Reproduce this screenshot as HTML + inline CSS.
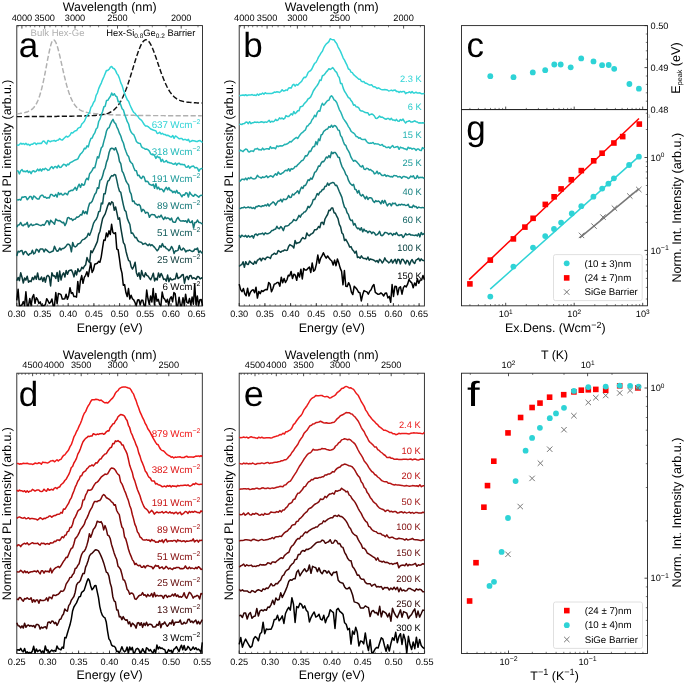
<!DOCTYPE html><html><head><meta charset="utf-8"><style>html,body{margin:0;padding:0;background:#fff;}svg{display:block;will-change:transform;text-rendering:geometricPrecision;}</style></head><body><svg width="685" height="684" viewBox="0 0 685 684" font-family='"Liberation Sans", sans-serif'>
<rect width="685" height="684" fill="#fff"/>
<rect x="16.8" y="25.6" width="185.7" height="280.4" fill="none" stroke="#222" stroke-width="0.9"/>
<line x1="16.8" y1="306" x2="16.8" y2="303" stroke="#222" stroke-width="0.8"/>
<text x="16.8" y="317" font-size="9.2" text-anchor="middle" fill="#000">0.30</text>
<line x1="42.5" y1="306" x2="42.5" y2="303" stroke="#222" stroke-width="0.8"/>
<text x="42.5" y="317" font-size="9.2" text-anchor="middle" fill="#000">0.35</text>
<line x1="68.2" y1="306" x2="68.2" y2="303" stroke="#222" stroke-width="0.8"/>
<text x="68.2" y="317" font-size="9.2" text-anchor="middle" fill="#000">0.40</text>
<line x1="93.9" y1="306" x2="93.9" y2="303" stroke="#222" stroke-width="0.8"/>
<text x="93.9" y="317" font-size="9.2" text-anchor="middle" fill="#000">0.45</text>
<line x1="119.6" y1="306" x2="119.6" y2="303" stroke="#222" stroke-width="0.8"/>
<text x="119.6" y="317" font-size="9.2" text-anchor="middle" fill="#000">0.50</text>
<line x1="145.3" y1="306" x2="145.3" y2="303" stroke="#222" stroke-width="0.8"/>
<text x="145.3" y="317" font-size="9.2" text-anchor="middle" fill="#000">0.55</text>
<line x1="171" y1="306" x2="171" y2="303" stroke="#222" stroke-width="0.8"/>
<text x="171" y="317" font-size="9.2" text-anchor="middle" fill="#000">0.60</text>
<line x1="196.7" y1="306" x2="196.7" y2="303" stroke="#222" stroke-width="0.8"/>
<text x="196.7" y="317" font-size="9.2" text-anchor="middle" fill="#000">0.65</text>
<line x1="21.9" y1="306" x2="21.9" y2="304.3" stroke="#222" stroke-width="0.6"/>
<line x1="27.1" y1="306" x2="27.1" y2="304.3" stroke="#222" stroke-width="0.6"/>
<line x1="32.2" y1="306" x2="32.2" y2="304.3" stroke="#222" stroke-width="0.6"/>
<line x1="37.4" y1="306" x2="37.4" y2="304.3" stroke="#222" stroke-width="0.6"/>
<line x1="42.5" y1="306" x2="42.5" y2="304.3" stroke="#222" stroke-width="0.6"/>
<line x1="47.6" y1="306" x2="47.6" y2="304.3" stroke="#222" stroke-width="0.6"/>
<line x1="52.8" y1="306" x2="52.8" y2="304.3" stroke="#222" stroke-width="0.6"/>
<line x1="57.9" y1="306" x2="57.9" y2="304.3" stroke="#222" stroke-width="0.6"/>
<line x1="63.1" y1="306" x2="63.1" y2="304.3" stroke="#222" stroke-width="0.6"/>
<line x1="68.2" y1="306" x2="68.2" y2="304.3" stroke="#222" stroke-width="0.6"/>
<line x1="73.3" y1="306" x2="73.3" y2="304.3" stroke="#222" stroke-width="0.6"/>
<line x1="78.5" y1="306" x2="78.5" y2="304.3" stroke="#222" stroke-width="0.6"/>
<line x1="83.6" y1="306" x2="83.6" y2="304.3" stroke="#222" stroke-width="0.6"/>
<line x1="88.8" y1="306" x2="88.8" y2="304.3" stroke="#222" stroke-width="0.6"/>
<line x1="93.9" y1="306" x2="93.9" y2="304.3" stroke="#222" stroke-width="0.6"/>
<line x1="99" y1="306" x2="99" y2="304.3" stroke="#222" stroke-width="0.6"/>
<line x1="104.2" y1="306" x2="104.2" y2="304.3" stroke="#222" stroke-width="0.6"/>
<line x1="109.3" y1="306" x2="109.3" y2="304.3" stroke="#222" stroke-width="0.6"/>
<line x1="114.5" y1="306" x2="114.5" y2="304.3" stroke="#222" stroke-width="0.6"/>
<line x1="119.6" y1="306" x2="119.6" y2="304.3" stroke="#222" stroke-width="0.6"/>
<line x1="124.7" y1="306" x2="124.7" y2="304.3" stroke="#222" stroke-width="0.6"/>
<line x1="129.9" y1="306" x2="129.9" y2="304.3" stroke="#222" stroke-width="0.6"/>
<line x1="135" y1="306" x2="135" y2="304.3" stroke="#222" stroke-width="0.6"/>
<line x1="140.2" y1="306" x2="140.2" y2="304.3" stroke="#222" stroke-width="0.6"/>
<line x1="145.3" y1="306" x2="145.3" y2="304.3" stroke="#222" stroke-width="0.6"/>
<line x1="150.4" y1="306" x2="150.4" y2="304.3" stroke="#222" stroke-width="0.6"/>
<line x1="155.6" y1="306" x2="155.6" y2="304.3" stroke="#222" stroke-width="0.6"/>
<line x1="160.7" y1="306" x2="160.7" y2="304.3" stroke="#222" stroke-width="0.6"/>
<line x1="165.9" y1="306" x2="165.9" y2="304.3" stroke="#222" stroke-width="0.6"/>
<line x1="171" y1="306" x2="171" y2="304.3" stroke="#222" stroke-width="0.6"/>
<line x1="176.1" y1="306" x2="176.1" y2="304.3" stroke="#222" stroke-width="0.6"/>
<line x1="181.3" y1="306" x2="181.3" y2="304.3" stroke="#222" stroke-width="0.6"/>
<line x1="186.4" y1="306" x2="186.4" y2="304.3" stroke="#222" stroke-width="0.6"/>
<line x1="191.6" y1="306" x2="191.6" y2="304.3" stroke="#222" stroke-width="0.6"/>
<line x1="196.7" y1="306" x2="196.7" y2="304.3" stroke="#222" stroke-width="0.6"/>
<line x1="201.8" y1="306" x2="201.8" y2="304.3" stroke="#222" stroke-width="0.6"/>
<line x1="21.9" y1="25.6" x2="21.9" y2="28.6" stroke="#222" stroke-width="0.8"/>
<text x="21.9" y="20.6" font-size="9.2" text-anchor="middle" fill="#000">4000</text>
<line x1="44.7" y1="25.6" x2="44.7" y2="28.6" stroke="#222" stroke-width="0.8"/>
<text x="44.7" y="20.6" font-size="9.2" text-anchor="middle" fill="#000">3500</text>
<line x1="75" y1="25.6" x2="75" y2="28.6" stroke="#222" stroke-width="0.8"/>
<text x="75" y="20.6" font-size="9.2" text-anchor="middle" fill="#000">3000</text>
<line x1="117.5" y1="25.6" x2="117.5" y2="28.6" stroke="#222" stroke-width="0.8"/>
<text x="117.5" y="20.6" font-size="9.2" text-anchor="middle" fill="#000">2500</text>
<line x1="181.2" y1="25.6" x2="181.2" y2="28.6" stroke="#222" stroke-width="0.8"/>
<text x="181.2" y="20.6" font-size="9.2" text-anchor="middle" fill="#000">2000</text>
<line x1="198" y1="25.6" x2="198" y2="27.3" stroke="#222" stroke-width="0.6"/>
<line x1="166.1" y1="25.6" x2="166.1" y2="27.3" stroke="#222" stroke-width="0.6"/>
<line x1="152.3" y1="25.6" x2="152.3" y2="27.3" stroke="#222" stroke-width="0.6"/>
<line x1="139.7" y1="25.6" x2="139.7" y2="27.3" stroke="#222" stroke-width="0.6"/>
<line x1="128.1" y1="25.6" x2="128.1" y2="27.3" stroke="#222" stroke-width="0.6"/>
<line x1="107.7" y1="25.6" x2="107.7" y2="27.3" stroke="#222" stroke-width="0.6"/>
<line x1="98.6" y1="25.6" x2="98.6" y2="27.3" stroke="#222" stroke-width="0.6"/>
<line x1="90.2" y1="25.6" x2="90.2" y2="27.3" stroke="#222" stroke-width="0.6"/>
<line x1="82.4" y1="25.6" x2="82.4" y2="27.3" stroke="#222" stroke-width="0.6"/>
<line x1="68.2" y1="25.6" x2="68.2" y2="27.3" stroke="#222" stroke-width="0.6"/>
<line x1="61.7" y1="25.6" x2="61.7" y2="27.3" stroke="#222" stroke-width="0.6"/>
<line x1="55.7" y1="25.6" x2="55.7" y2="27.3" stroke="#222" stroke-width="0.6"/>
<line x1="50" y1="25.6" x2="50" y2="27.3" stroke="#222" stroke-width="0.6"/>
<line x1="39.6" y1="25.6" x2="39.6" y2="27.3" stroke="#222" stroke-width="0.6"/>
<line x1="34.8" y1="25.6" x2="34.8" y2="27.3" stroke="#222" stroke-width="0.6"/>
<line x1="30.3" y1="25.6" x2="30.3" y2="27.3" stroke="#222" stroke-width="0.6"/>
<line x1="26" y1="25.6" x2="26" y2="27.3" stroke="#222" stroke-width="0.6"/>
<line x1="18" y1="25.6" x2="18" y2="27.3" stroke="#222" stroke-width="0.6"/>
<text x="109.7" y="10.9" font-size="12.4" text-anchor="middle" fill="#000">Wavelength (nm)</text>
<text x="109.7" y="331.6" font-size="12.4" text-anchor="middle" fill="#000">Energy (eV)</text>
<text x="10.6" y="166.1" font-size="12.4" text-anchor="middle" fill="#000" transform="rotate(-90 10.6 166.1)">Normalized PL intensity (arb.u.)</text>
<path d="M16.8 113.9 L17.8 113.7 L18.8 113.6 L19.8 113.5 L20.8 113.3 L21.8 113.2 L22.8 113 L23.8 112.8 L24.8 112.6 L25.8 112.3 L26.8 112 L27.8 111.7 L28.8 111.2 L29.8 110.8 L30.8 110.2 L31.8 109.4 L32.8 108.6 L33.8 107.5 L34.8 106.3 L35.8 104.7 L36.8 102.9 L37.8 100.8 L38.8 98.2 L39.8 95.3 L40.8 91.9 L41.8 88.2 L42.8 84 L43.8 79.4 L44.8 74.5 L45.8 69.3 L46.8 64 L47.8 58.7 L48.8 53.7 L49.8 49 L50.8 45.1 L51.8 42.1 L52.8 40.3 L53.8 39.9 L54.8 40.6 L55.8 42.3 L56.8 44.8 L57.8 48 L58.8 51.8 L59.8 55.9 L60.8 60.3 L61.8 64.8 L62.8 69.3 L63.8 73.7 L64.8 77.9 L65.8 81.9 L66.8 85.7 L67.8 89.1 L68.8 92.3 L69.8 95.1 L70.8 97.6 L71.8 99.9 L72.8 101.8 L73.8 103.6 L74.8 105 L75.8 106.3 L76.8 107.4 L77.8 108.3 L78.8 109.1 L79.8 109.8 L80.8 110.3 L81.8 110.8 L82.8 111.2 L83.8 111.6 L84.8 111.9 L85.8 112.2 L86.8 112.4 L87.8 112.6 L88.8 112.8 L89.8 113 L90.8 113.1 L91.8 113.3 L92.8 113.4 L93.8 113.5 L94.8 113.6 L95.8 113.7 L96.8 113.8 L97.8 113.9 L98.8 114 L99.8 114.1 L100.8 114.2 L101.8 114.2 L102.8 114.3 L103.8 114.4 L104.8 114.4 L105.8 114.5 L106.8 114.5 L107.8 114.6 L108.8 114.6 L109.8 114.7 L110.8 114.7 L111.8 114.8 L112.8 114.8 L113.8 114.9 L114.8 114.9 L115.8 114.9 L116.8 115 L117.8 115 L118.8 115 L119.8 115 L120.8 115.1 L121.8 115.1 L122.8 115.1 L123.8 115.1 L124.8 115.2 L125.8 115.2 L126.8 115.2 L127.8 115.2 L128.8 115.3 L129.8 115.3 L130.8 115.3 L131.8 115.3 L132.8 115.3 L133.8 115.3 L134.8 115.4 L135.8 115.4 L136.8 115.4 L137.8 115.4 L138.8 115.4 L139.8 115.4 L140.8 115.4 L141.8 115.5 L142.8 115.5 L143.8 115.5 L144.8 115.5 L145.8 115.5 L146.8 115.5 L147.8 115.5 L148.8 115.5 L149.8 115.5 L150.8 115.6 L151.8 115.6 L152.8 115.6 L153.8 115.6 L154.8 115.6 L155.8 115.6 L156.8 115.6 L157.8 115.6 L158.8 115.6 L159.8 115.6 L160.8 115.6 L161.8 115.6 L162.8 115.6 L163.8 115.6 L164.8 115.7 L165.8 115.7 L166.8 115.7 L167.8 115.7 L168.8 115.7 L169.8 115.7 L170.8 115.7 L171.8 115.7 L172.8 115.7 L173.8 115.7 L174.8 115.7 L175.8 115.7 L176.8 115.7 L177.8 115.7 L178.8 115.7 L179.8 115.7 L180.8 115.7 L181.8 115.7 L182.8 115.7 L183.8 115.7 L184.8 115.8 L185.8 115.8 L186.8 115.8 L187.8 115.8 L188.8 115.8 L189.8 115.8 L190.8 115.8 L191.8 115.8 L192.8 115.8 L193.8 115.8 L194.8 115.8 L195.8 115.8 L196.8 115.8 L197.8 115.8 L198.8 115.8 L199.8 115.8 L200.8 115.8 L201.8 115.8" fill="none" stroke="#b0b0b0" stroke-width="1.45" stroke-linejoin="round" stroke-dasharray="5.2 2.3"/>
<path d="M16.8 116.6 L17.8 116.6 L18.8 116.6 L19.8 116.6 L20.8 116.6 L21.8 116.6 L22.8 116.6 L23.8 116.6 L24.8 116.6 L25.8 116.6 L26.8 116.5 L27.8 116.5 L28.8 116.5 L29.8 116.5 L30.8 116.5 L31.8 116.5 L32.8 116.5 L33.8 116.5 L34.8 116.5 L35.8 116.5 L36.8 116.5 L37.8 116.5 L38.8 116.5 L39.8 116.5 L40.8 116.5 L41.8 116.5 L42.8 116.5 L43.8 116.5 L44.8 116.5 L45.8 116.4 L46.8 116.4 L47.8 116.4 L48.8 116.4 L49.8 116.4 L50.8 116.4 L51.8 116.4 L52.8 116.4 L53.8 116.4 L54.8 116.4 L55.8 116.4 L56.8 116.4 L57.8 116.3 L58.8 116.3 L59.8 116.3 L60.8 116.3 L61.8 116.3 L62.8 116.3 L63.8 116.3 L64.8 116.3 L65.8 116.2 L66.8 116.2 L67.8 116.2 L68.8 116.2 L69.8 116.2 L70.8 116.2 L71.8 116.2 L72.8 116.1 L73.8 116.1 L74.8 116.1 L75.8 116.1 L76.8 116.1 L77.8 116 L78.8 116 L79.8 116 L80.8 116 L81.8 116 L82.8 115.9 L83.8 115.9 L84.8 115.9 L85.8 115.8 L86.8 115.8 L87.8 115.8 L88.8 115.7 L89.8 115.7 L90.8 115.7 L91.8 115.6 L92.8 115.6 L93.8 115.5 L94.8 115.4 L95.8 115.4 L96.8 115.3 L97.8 115.2 L98.8 115.1 L99.8 115 L100.8 114.9 L101.8 114.8 L102.8 114.6 L103.8 114.4 L104.8 114.2 L105.8 114 L106.8 113.7 L107.8 113.4 L108.8 113 L109.8 112.5 L110.8 112 L111.8 111.4 L112.8 110.8 L113.8 110 L114.8 109.1 L115.8 108.1 L116.8 107 L117.8 105.8 L118.8 104.4 L119.8 102.8 L120.8 101.1 L121.8 99.2 L122.8 97.2 L123.8 95 L124.8 92.6 L125.8 90.1 L126.8 87.4 L127.8 84.5 L128.8 81.6 L129.8 78.5 L130.8 75.3 L131.8 72 L132.8 68.7 L133.8 65.4 L134.8 62.2 L135.8 59 L136.8 55.9 L137.8 52.9 L138.8 50.2 L139.8 47.7 L140.8 45.4 L141.8 43.5 L142.8 42 L143.8 40.8 L144.8 40.1 L145.8 39.8 L146.8 39.9 L147.8 40.5 L148.8 41.5 L149.8 42.9 L150.8 44.6 L151.8 46.7 L152.8 49 L153.8 51.6 L154.8 54.3 L155.8 57.1 L156.8 60 L157.8 63 L158.8 65.9 L159.8 68.8 L160.8 71.7 L161.8 74.5 L162.8 77.1 L163.8 79.6 L164.8 82 L165.8 84.2 L166.8 86.3 L167.8 88.2 L168.8 90 L169.8 91.6 L170.8 93 L171.8 94.3 L172.8 95.4 L173.8 96.5 L174.8 97.4 L175.8 98.1 L176.8 98.8 L177.8 99.4 L178.8 99.9 L179.8 100.4 L180.8 100.7 L181.8 101.1 L182.8 101.3 L183.8 101.6 L184.8 101.8 L185.8 102 L186.8 102.1 L187.8 102.2 L188.8 102.3 L189.8 102.4 L190.8 102.5 L191.8 102.6 L192.8 102.7 L193.8 102.7 L194.8 102.8 L195.8 102.8 L196.8 102.9 L197.8 102.9 L198.8 102.9 L199.8 103 L200.8 103 L201.8 103" fill="none" stroke="#111" stroke-width="1.45" stroke-linejoin="round" stroke-dasharray="5.2 2.3"/>
<path d="M16.8 145.1 L18.1 145.2 L19.4 144.6 L20.7 143.2 L22 144.2 L23.3 143.5 L24.6 144.5 L25.9 143.2 L27.2 144.7 L28.5 144.3 L29.8 145.5 L31.1 144.2 L32.4 144.3 L33.7 143.3 L35 142.9 L36.3 144.5 L37.6 143.3 L38.9 143.5 L40.2 143.2 L41.5 143.4 L42.8 141.3 L44.1 141.1 L45.4 142.7 L46.7 143.9 L48 140.4 L49.3 141.2 L50.6 141.7 L51.9 140.9 L53.2 140.8 L54.5 140.5 L55.8 141.3 L57.1 140.2 L58.4 140 L59.7 138.6 L61 139.7 L62.3 140.1 L63.6 138.8 L64.9 137.5 L66.2 136.2 L67.5 137 L68.8 136.3 L70.1 135 L71.4 132.6 L72.7 133 L74 131.7 L75.3 130.8 L76.6 130.6 L77.9 128.3 L79.2 127.6 L80.5 127.3 L81.8 124 L83.1 122.7 L84.4 121.3 L85.7 118.3 L87 115.3 L88.3 114.3 L89.6 112.2 L90.9 107.4 L92.2 105.7 L93.5 102.5 L94.8 100.8 L96.1 95.3 L97.4 93 L98.7 88.6 L100 85.6 L101.3 83.1 L102.6 79.6 L103.9 76.7 L105.2 73.5 L106.5 70.4 L107.8 70.4 L109.1 69.3 L110.4 67.2 L111.7 66.5 L113 68.2 L114.3 68.8 L115.6 70.6 L116.9 73.6 L118.2 75.2 L119.5 78.6 L120.8 82.9 L122.1 85.5 L123.4 89.9 L124.7 93.4 L126 96.9 L127.3 99.9 L128.6 101.2 L129.9 104.8 L131.2 107.7 L132.5 110.4 L133.8 112.5 L135.1 113.4 L136.4 115.3 L137.7 116.2 L139 118.2 L140.3 119.4 L141.6 120.3 L142.9 122.3 L144.2 124.5 L145.5 126 L146.8 126 L148.1 126.6 L149.4 127.8 L150.7 129 L152 129.5 L153.3 130.1 L154.6 130.4 L155.9 130.9 L157.2 133.5 L158.5 133.1 L159.8 132.2 L161.1 134 L162.4 133.3 L163.7 134.5 L165 134.4 L166.3 135.4 L167.6 135.2 L168.9 135.8 L170.2 136.7 L171.5 137.1 L172.8 135.6 L174.1 138.3 L175.4 136 L176.7 136.7 L178 137.8 L179.3 138.8 L180.6 138.6 L181.9 138.5 L183.2 139.9 L184.5 139.4 L185.8 139.6 L187.1 140.4 L188.4 139.4 L189.7 141.9 L191 141.3 L192.3 140.5 L193.6 140.7 L194.9 141 L196.2 141.6 L197.5 141.5 L198.8 140.7 L200.1 140.6 L202.5 142.5" fill="none" stroke="#30d4d6" stroke-width="1.5" stroke-linejoin="round"/>
<path d="M16.8 170.8 L18.1 171.1 L19.4 173.9 L20.7 170.7 L22 169.6 L23.3 171.5 L24.6 171.2 L25.9 171.8 L27.2 170.5 L28.5 172.5 L29.8 171.4 L31.1 173.6 L32.4 171.2 L33.7 170.7 L35 171.9 L36.3 171.2 L37.6 169.1 L38.9 170.8 L40.2 169 L41.5 171 L42.8 168.8 L44.1 169.7 L45.4 168.2 L46.7 169.3 L48 170.4 L49.3 169.9 L50.6 167.6 L51.9 166.6 L53.2 168.7 L54.5 166.8 L55.8 166.5 L57.1 167.9 L58.4 165.3 L59.7 167.4 L61 167.3 L62.3 165.7 L63.6 164.2 L64.9 164.6 L66.2 166.1 L67.5 164.1 L68.8 164.7 L70.1 162.7 L71.4 162.1 L72.7 161.5 L74 160.6 L75.3 159.9 L76.6 159.6 L77.9 158.9 L79.2 156.2 L80.5 154 L81.8 152.9 L83.1 151.1 L84.4 148.2 L85.7 148.8 L87 145.9 L88.3 146.9 L89.6 141.9 L90.9 138.5 L92.2 138 L93.5 134.8 L94.8 132.9 L96.1 129 L97.4 127.8 L98.7 121.5 L100 119.2 L101.3 115 L102.6 111.5 L103.9 106.8 L105.2 106.2 L106.5 100.6 L107.8 100.3 L109.1 98.2 L110.4 96.4 L111.7 93 L113 95.3 L114.3 93.7 L115.6 96 L116.9 96.7 L118.2 101.7 L119.5 101.4 L120.8 104.9 L122.1 108.7 L123.4 110 L124.7 114.5 L126 118 L127.3 121.7 L128.6 124 L129.9 129.4 L131.2 132.2 L132.5 133.9 L133.8 134.7 L135.1 137.7 L136.4 141.4 L137.7 142.8 L139 143.3 L140.3 143.5 L141.6 146.9 L142.9 147.9 L144.2 148.4 L145.5 149.3 L146.8 149 L148.1 149.9 L149.4 151.1 L150.7 153.9 L152 154.7 L153.3 154.4 L154.6 155.7 L155.9 158.4 L157.2 156 L158.5 157.5 L159.8 157.2 L161.1 161.5 L162.4 159.3 L163.7 161.9 L165 161.7 L166.3 160.5 L167.6 162.4 L168.9 162.3 L170.2 163.1 L171.5 163.1 L172.8 164 L174.1 164.3 L175.4 163 L176.7 165.1 L178 163.6 L179.3 163.3 L180.6 164.6 L181.9 164.3 L183.2 164.8 L184.5 164.6 L185.8 167 L187.1 167.3 L188.4 165.8 L189.7 168.2 L191 166.8 L192.3 166.2 L193.6 166.1 L194.9 167.9 L196.2 167.5 L197.5 168.1 L198.8 171.3 L200.1 169.1 L202.5 168.2" fill="none" stroke="#22baba" stroke-width="1.5" stroke-linejoin="round"/>
<path d="M16.8 199.6 L18.1 200 L19.4 199.4 L20.7 200.2 L22 197.1 L23.3 197.2 L24.6 196.7 L25.9 196.7 L27.2 199.7 L28.5 198.4 L29.8 196.5 L31.1 196.5 L32.4 199.4 L33.7 196 L35 196.8 L36.3 198.1 L37.6 199.1 L38.9 199.1 L40.2 196.4 L41.5 195.2 L42.8 195.3 L44.1 197.4 L45.4 197 L46.7 198.3 L48 197.6 L49.3 197.9 L50.6 194.6 L51.9 194.4 L53.2 195.8 L54.5 196.2 L55.8 194.3 L57.1 197.1 L58.4 192.6 L59.7 194.6 L61 193.2 L62.3 194.9 L63.6 194.7 L64.9 193.2 L66.2 193.8 L67.5 194.8 L68.8 191.5 L70.1 191 L71.4 190.2 L72.7 190.6 L74 189.1 L75.3 187.3 L76.6 190.2 L77.9 186.7 L79.2 184.2 L80.5 187.4 L81.8 183.8 L83.1 185.2 L84.4 184.7 L85.7 180.1 L87 178.2 L88.3 179.8 L89.6 173.7 L90.9 172.2 L92.2 170.4 L93.5 167.7 L94.8 167.8 L96.1 162.6 L97.4 156.8 L98.7 157.9 L100 152.9 L101.3 147.8 L102.6 146.5 L103.9 141.1 L105.2 136.8 L106.5 131 L107.8 128.4 L109.1 127.7 L110.4 124.1 L111.7 121.4 L113 119.3 L114.3 122.5 L115.6 123.6 L116.9 127.1 L118.2 129.7 L119.5 133.4 L120.8 136 L122.1 140.4 L123.4 143 L124.7 148 L126 151.6 L127.3 154.9 L128.6 156.4 L129.9 161 L131.2 162.8 L132.5 163.9 L133.8 167.7 L135.1 170.6 L136.4 170.8 L137.7 175.5 L139 175.2 L140.3 177.7 L141.6 178.5 L142.9 176.2 L144.2 177.1 L145.5 181.5 L146.8 181.2 L148.1 181.9 L149.4 184.3 L150.7 184.8 L152 185.4 L153.3 184.3 L154.6 188.3 L155.9 183.7 L157.2 188.9 L158.5 187.2 L159.8 189.6 L161.1 188.9 L162.4 189.7 L163.7 191.8 L165 189.1 L166.3 187.3 L167.6 189.8 L168.9 187.6 L170.2 190.4 L171.5 190.5 L172.8 192.6 L174.1 191.3 L175.4 192.9 L176.7 190.4 L178 193.3 L179.3 192.8 L180.6 194.7 L181.9 196.8 L183.2 194.7 L184.5 195.2 L185.8 192.8 L187.1 193.3 L188.4 197 L189.7 192.1 L191 194.3 L192.3 195.5 L193.6 196.3 L194.9 194.3 L196.2 195.2 L197.5 196.1 L198.8 197.3 L200.1 195.6 L202.5 195.3" fill="none" stroke="#1a9898" stroke-width="1.5" stroke-linejoin="round"/>
<path d="M16.8 227.1 L18.1 225 L19.4 224.7 L20.7 222.5 L22 225.2 L23.3 225.7 L24.6 224.3 L25.9 224.4 L27.2 222.3 L28.5 227.1 L29.8 225.3 L31.1 224 L32.4 225.6 L33.7 225 L35 224.6 L36.3 224 L37.6 224.3 L38.9 224.9 L40.2 225.4 L41.5 225.4 L42.8 224.5 L44.1 225.3 L45.4 223.3 L46.7 220.8 L48 220.9 L49.3 224.7 L50.6 220.3 L51.9 221.6 L53.2 222.8 L54.5 224.2 L55.8 218.9 L57.1 220.3 L58.4 220.7 L59.7 220.6 L61 221.6 L62.3 222.7 L63.6 222.2 L64.9 225.6 L66.2 223.2 L67.5 218 L68.8 217.4 L70.1 219.1 L71.4 218.6 L72.7 220.5 L74 219.3 L75.3 219.1 L76.6 217.1 L77.9 217.2 L79.2 216.4 L80.5 214.6 L81.8 215 L83.1 210.7 L84.4 213.5 L85.7 211.6 L87 214 L88.3 207.5 L89.6 203.2 L90.9 202.7 L92.2 201.2 L93.5 197.8 L94.8 194.2 L96.1 192.7 L97.4 187.7 L98.7 188.4 L100 180.1 L101.3 179.6 L102.6 176.1 L103.9 170.8 L105.2 168 L106.5 162.1 L107.8 158.9 L109.1 152.5 L110.4 149 L111.7 148.2 L113 148.4 L114.3 150 L115.6 147.7 L116.9 151.3 L118.2 154.7 L119.5 161.5 L120.8 163.7 L122.1 171.2 L123.4 173.2 L124.7 176.9 L126 181 L127.3 183.1 L128.6 185 L129.9 191.6 L131.2 194.1 L132.5 201.4 L133.8 200.9 L135.1 203.6 L136.4 204.1 L137.7 205.2 L139 204.4 L140.3 206 L141.6 211.6 L142.9 209.4 L144.2 210.3 L145.5 213.2 L146.8 212.3 L148.1 212.9 L149.4 217.3 L150.7 215.1 L152 214.4 L153.3 214.8 L154.6 214.8 L155.9 217 L157.2 217.7 L158.5 216.2 L159.8 217.1 L161.1 215.1 L162.4 217.6 L163.7 219.5 L165 217 L166.3 218.7 L167.6 217.9 L168.9 218.5 L170.2 220 L171.5 218.1 L172.8 221.8 L174.1 222.2 L175.4 222.2 L176.7 218.9 L178 217.4 L179.3 219.7 L180.6 221 L181.9 220.9 L183.2 220.8 L184.5 221.2 L185.8 220.7 L187.1 222.5 L188.4 219.1 L189.7 222.2 L191 222.5 L192.3 220.8 L193.6 228 L194.9 222.4 L196.2 222.4 L197.5 220 L198.8 222.5 L200.1 222.5 L202.5 224.2" fill="none" stroke="#147878" stroke-width="1.5" stroke-linejoin="round"/>
<path d="M16.8 256 L18.1 251.2 L19.4 251.9 L20.7 250.7 L22 250.5 L23.3 254.6 L24.6 252 L25.9 251.5 L27.2 253.8 L28.5 255.3 L29.8 253.7 L31.1 253.5 L32.4 250.2 L33.7 253.9 L35 253 L36.3 249.3 L37.6 249.9 L38.9 252.2 L40.2 249 L41.5 249 L42.8 249 L44.1 251.9 L45.4 249.1 L46.7 250.1 L48 251.4 L49.3 252.5 L50.6 252.2 L51.9 251.5 L53.2 251 L54.5 246.2 L55.8 249.4 L57.1 251.3 L58.4 250.7 L59.7 248 L61 250 L62.3 248.4 L63.6 248.5 L64.9 247.4 L66.2 245.9 L67.5 244.2 L68.8 244.3 L70.1 245.8 L71.4 251.8 L72.7 242.4 L74 246.3 L75.3 246.9 L76.6 246 L77.9 244 L79.2 243.5 L80.5 242.9 L81.8 240.5 L83.1 239.5 L84.4 239.1 L85.7 237.9 L87 236.8 L88.3 233.3 L89.6 235.3 L90.9 232 L92.2 228 L93.5 223.4 L94.8 221 L96.1 219.6 L97.4 216.7 L98.7 211.8 L100 211.3 L101.3 203.1 L102.6 203.9 L103.9 193.7 L105.2 193.8 L106.5 186.2 L107.8 181.1 L109.1 180.3 L110.4 177.4 L111.7 175.6 L113 176 L114.3 174.5 L115.6 174.9 L116.9 180.6 L118.2 186.9 L119.5 191.3 L120.8 192.4 L122.1 199 L123.4 205.1 L124.7 210.3 L126 211.6 L127.3 218.4 L128.6 221.6 L129.9 224.5 L131.2 233.2 L132.5 232.9 L133.8 235.1 L135.1 237.7 L136.4 237.5 L137.7 240.4 L139 241.6 L140.3 242.1 L141.6 242.4 L142.9 244.4 L144.2 243.7 L145.5 243.3 L146.8 244.7 L148.1 245.6 L149.4 244 L150.7 245.7 L152 244.7 L153.3 246.1 L154.6 247.4 L155.9 249.1 L157.2 250.8 L158.5 249.2 L159.8 245.8 L161.1 247.1 L162.4 243.6 L163.7 246.8 L165 246.5 L166.3 248.6 L167.6 249.1 L168.9 250.7 L170.2 249.4 L171.5 246.5 L172.8 248.6 L174.1 253.5 L175.4 250.7 L176.7 250.9 L178 250.4 L179.3 245.5 L180.6 249.6 L181.9 250 L183.2 248.1 L184.5 249.3 L185.8 251.9 L187.1 250.5 L188.4 250.7 L189.7 250 L191 250.9 L192.3 251.5 L193.6 251 L194.9 249 L196.2 249.4 L197.5 248 L198.8 252.8 L200.1 250.9 L202.5 253.4" fill="none" stroke="#0e5858" stroke-width="1.5" stroke-linejoin="round"/>
<path d="M16.8 280.8 L18.1 277.4 L19.4 280.6 L20.7 272.8 L22 277.2 L23.3 283 L24.6 278 L25.9 280.1 L27.2 276.2 L28.5 282.2 L29.8 280.9 L31.1 281.6 L32.4 277.5 L33.7 279.6 L35 276 L36.3 279.3 L37.6 272.9 L38.9 279.4 L40.2 279.6 L41.5 277 L42.8 281.4 L44.1 277.4 L45.4 282.2 L46.7 276.3 L48 275.4 L49.3 276.9 L50.6 285.9 L51.9 272.8 L53.2 275.9 L54.5 275.8 L55.8 278.5 L57.1 272.4 L58.4 281.3 L59.7 271.1 L61 280 L62.3 274.9 L63.6 272.8 L64.9 277 L66.2 270.4 L67.5 274.3 L68.8 270.7 L70.1 270.3 L71.4 269.9 L72.7 272.6 L74 276.9 L75.3 270.8 L76.6 274.9 L77.9 268.8 L79.2 271.6 L80.5 270.7 L81.8 267.3 L83.1 268.6 L84.4 266.2 L85.7 264.7 L87 257.6 L88.3 260.8 L89.6 262.7 L90.9 250.7 L92.2 252.7 L93.5 249.9 L94.8 247.3 L96.1 244.4 L97.4 241.4 L98.7 234.2 L100 231.2 L101.3 224.6 L102.6 218.6 L103.9 216.1 L105.2 213.9 L106.5 209.7 L107.8 205.6 L109.1 202.7 L110.4 204.8 L111.7 201.7 L113 202.8 L114.3 210.3 L115.6 206.9 L116.9 212.9 L118.2 219.3 L119.5 217.9 L120.8 227.8 L122.1 235.4 L123.4 242.6 L124.7 244.6 L126 251.2 L127.3 256.3 L128.6 260.6 L129.9 261.1 L131.2 266.9 L132.5 269 L133.8 266.4 L135.1 262.2 L136.4 272.7 L137.7 276.2 L139 272.8 L140.3 279.2 L141.6 270.6 L142.9 275.2 L144.2 276.9 L145.5 272.8 L146.8 275.4 L148.1 276.1 L149.4 278.2 L150.7 279.8 L152 276.7 L153.3 273.2 L154.6 280.9 L155.9 278.2 L157.2 280 L158.5 272.9 L159.8 277.2 L161.1 273.4 L162.4 275.9 L163.7 279.4 L165 278.9 L166.3 281.1 L167.6 275.1 L168.9 281.7 L170.2 278 L171.5 279.8 L172.8 279.7 L174.1 279 L175.4 278.8 L176.7 273.2 L178 278.6 L179.3 277.7 L180.6 276.8 L181.9 275 L183.2 274.5 L184.5 283.2 L185.8 277.3 L187.1 276.2 L188.4 279.6 L189.7 275.8 L191 275.4 L192.3 278.8 L193.6 277.7 L194.9 278.4 L196.2 279.3 L197.5 276.4 L198.8 276.8 L200.1 278.9 L202.5 277.5" fill="none" stroke="#0a3838" stroke-width="1.5" stroke-linejoin="round"/>
<path d="M16.8 300.3 L18.1 289.3 L19.4 305.6 L20.7 305.6 L22 304.8 L23.3 301.6 L24.6 305.6 L25.9 291.8 L27.2 305.6 L28.5 305.6 L29.8 298.5 L31.1 305.6 L32.4 297.4 L33.7 294.6 L35 303.3 L36.3 297.7 L37.6 299.5 L38.9 303.6 L40.2 301.9 L41.5 305.6 L42.8 305.6 L44.1 305.6 L45.4 304.6 L46.7 298.7 L48 300.9 L49.3 303.4 L50.6 302.2 L51.9 299 L53.2 305.6 L54.5 305.6 L55.8 292.6 L57.1 303.6 L58.4 293.5 L59.7 293.9 L61 294.6 L62.3 299 L63.5 299.1 L64.8 298.8 L66.1 294.3 L67.4 299.2 L68.7 295.7 L70 287.7 L71.3 293.4 L72.6 292.7 L73.9 296.5 L75.2 296.4 L76.5 297.2 L77.8 281.4 L79.1 292.5 L80.4 280.6 L81.7 275.6 L83 283.3 L84.3 277.4 L85.6 275.3 L86.9 271.7 L88.2 276.5 L89.5 269.5 L90.8 262.8 L92.1 272.5 L93.4 270 L94.7 264.3 L96 263.7 L97.3 263.3 L98.6 261.3 L99.9 262.3 L101.2 257.1 L102.5 248.4 L103.8 240 L105.1 240.4 L106.4 233 L107.7 236.7 L109 230.8 L110.3 234.5 L111.6 224.3 L112.9 232.5 L114.2 233.6 L115.5 232.7 L116.8 249.1 L118.1 249.7 L119.4 258.4 L120.7 268.3 L122 273.1 L123.3 285.2 L124.6 284.6 L125.9 292.6 L127.2 296.6 L128.5 288.6 L129.8 299.1 L131.1 295.3 L132.4 298.8 L133.7 299.9 L135 302.5 L136.3 305.6 L137.6 299.9 L138.9 299.7 L140.2 304.8 L141.5 300.2 L142.8 300.3 L144.1 305.6 L145.4 305.6 L146.7 290.1 L148 299 L149.3 304.5 L150.6 295.9 L151.9 302 L153.2 288.4 L154.5 305.1 L155.8 293.4 L157 301.2 L158.3 299.3 L159.6 304.4 L160.9 305.6 L162.2 292.1 L163.5 297.9 L164.8 299.2 L166.1 302.3 L167.4 299.2 L168.7 305.4 L170 298.6 L171.3 296.8 L172.6 301.8 L173.9 292.6 L175.2 293.8 L176.5 305.6 L177.8 305.6 L179.1 297.2 L180.4 305.6 L181.7 305.6 L183 297.7 L184.3 305.6 L185.6 294.2 L186.9 302.4 L188.2 303.2 L189.5 298.5 L190.8 305.1 L192.1 297.1 L193.4 304.2 L194.7 284.1 L196 304.7 L197.3 296 L198.6 305.6 L199.9 299.7 L201.2 299.5 L202.5 305.6" fill="none" stroke="#000000" stroke-width="1.5" stroke-linejoin="round"/>
<text x="200.5" y="127.8" font-size="9.8" text-anchor="end" fill="#30d4d6">637<tspan dx="2.2">Wcm</tspan><tspan font-size="7" dy="-4.0">−2</tspan></text>
<text x="200.5" y="154.8" font-size="9.8" text-anchor="end" fill="#22baba">318<tspan dx="2.2">Wcm</tspan><tspan font-size="7" dy="-4.0">−2</tspan></text>
<text x="200.5" y="181.7" font-size="9.8" text-anchor="end" fill="#1a9898">191<tspan dx="2.2">Wcm</tspan><tspan font-size="7" dy="-4.0">−2</tspan></text>
<text x="200.5" y="208.7" font-size="9.8" text-anchor="end" fill="#147878">89<tspan dx="2.2">Wcm</tspan><tspan font-size="7" dy="-4.0">−2</tspan></text>
<text x="200.5" y="235.7" font-size="9.8" text-anchor="end" fill="#0e5858">51<tspan dx="2.2">Wcm</tspan><tspan font-size="7" dy="-4.0">−2</tspan></text>
<text x="200.5" y="262.6" font-size="9.8" text-anchor="end" fill="#0a3838">25<tspan dx="2.2">Wcm</tspan><tspan font-size="7" dy="-4.0">−2</tspan></text>
<text x="200.5" y="289.6" font-size="9.8" text-anchor="end" fill="#000000">6<tspan dx="2.2">Wcm</tspan><tspan font-size="7" dy="-4.0">−2</tspan></text>
<text x="30.6" y="36" font-size="9.5" text-anchor="start" fill="#b0b0b0">Bulk Hex-Ge</text>
<text x="106.2" y="36.3" font-size="9.35" text-anchor="start" fill="#000">Hex-Si<tspan font-size="6.5" dy="1.6">0.8</tspan><tspan dy="-1.6">Ge</tspan><tspan font-size="6.5" dy="1.6">0.2</tspan><tspan dy="-1.6">&#160;Barrier</tspan></text>
<text x="18.8" y="57.3" font-size="35" text-anchor="start" fill="#000">a</text>
<rect x="239.2" y="25.6" width="185.2" height="280.4" fill="none" stroke="#222" stroke-width="0.9"/>
<line x1="239.2" y1="306" x2="239.2" y2="303" stroke="#222" stroke-width="0.8"/>
<text x="239.2" y="317" font-size="9.2" text-anchor="middle" fill="#000">0.30</text>
<line x1="264.9" y1="306" x2="264.9" y2="303" stroke="#222" stroke-width="0.8"/>
<text x="264.9" y="317" font-size="9.2" text-anchor="middle" fill="#000">0.35</text>
<line x1="290.6" y1="306" x2="290.6" y2="303" stroke="#222" stroke-width="0.8"/>
<text x="290.6" y="317" font-size="9.2" text-anchor="middle" fill="#000">0.40</text>
<line x1="316.3" y1="306" x2="316.3" y2="303" stroke="#222" stroke-width="0.8"/>
<text x="316.3" y="317" font-size="9.2" text-anchor="middle" fill="#000">0.45</text>
<line x1="342" y1="306" x2="342" y2="303" stroke="#222" stroke-width="0.8"/>
<text x="342" y="317" font-size="9.2" text-anchor="middle" fill="#000">0.50</text>
<line x1="367.7" y1="306" x2="367.7" y2="303" stroke="#222" stroke-width="0.8"/>
<text x="367.7" y="317" font-size="9.2" text-anchor="middle" fill="#000">0.55</text>
<line x1="393.4" y1="306" x2="393.4" y2="303" stroke="#222" stroke-width="0.8"/>
<text x="393.4" y="317" font-size="9.2" text-anchor="middle" fill="#000">0.60</text>
<line x1="419.1" y1="306" x2="419.1" y2="303" stroke="#222" stroke-width="0.8"/>
<text x="419.1" y="317" font-size="9.2" text-anchor="middle" fill="#000">0.65</text>
<line x1="244.3" y1="306" x2="244.3" y2="304.3" stroke="#222" stroke-width="0.6"/>
<line x1="249.5" y1="306" x2="249.5" y2="304.3" stroke="#222" stroke-width="0.6"/>
<line x1="254.6" y1="306" x2="254.6" y2="304.3" stroke="#222" stroke-width="0.6"/>
<line x1="259.8" y1="306" x2="259.8" y2="304.3" stroke="#222" stroke-width="0.6"/>
<line x1="264.9" y1="306" x2="264.9" y2="304.3" stroke="#222" stroke-width="0.6"/>
<line x1="270" y1="306" x2="270" y2="304.3" stroke="#222" stroke-width="0.6"/>
<line x1="275.2" y1="306" x2="275.2" y2="304.3" stroke="#222" stroke-width="0.6"/>
<line x1="280.3" y1="306" x2="280.3" y2="304.3" stroke="#222" stroke-width="0.6"/>
<line x1="285.5" y1="306" x2="285.5" y2="304.3" stroke="#222" stroke-width="0.6"/>
<line x1="290.6" y1="306" x2="290.6" y2="304.3" stroke="#222" stroke-width="0.6"/>
<line x1="295.7" y1="306" x2="295.7" y2="304.3" stroke="#222" stroke-width="0.6"/>
<line x1="300.9" y1="306" x2="300.9" y2="304.3" stroke="#222" stroke-width="0.6"/>
<line x1="306" y1="306" x2="306" y2="304.3" stroke="#222" stroke-width="0.6"/>
<line x1="311.2" y1="306" x2="311.2" y2="304.3" stroke="#222" stroke-width="0.6"/>
<line x1="316.3" y1="306" x2="316.3" y2="304.3" stroke="#222" stroke-width="0.6"/>
<line x1="321.4" y1="306" x2="321.4" y2="304.3" stroke="#222" stroke-width="0.6"/>
<line x1="326.6" y1="306" x2="326.6" y2="304.3" stroke="#222" stroke-width="0.6"/>
<line x1="331.7" y1="306" x2="331.7" y2="304.3" stroke="#222" stroke-width="0.6"/>
<line x1="336.9" y1="306" x2="336.9" y2="304.3" stroke="#222" stroke-width="0.6"/>
<line x1="342" y1="306" x2="342" y2="304.3" stroke="#222" stroke-width="0.6"/>
<line x1="347.1" y1="306" x2="347.1" y2="304.3" stroke="#222" stroke-width="0.6"/>
<line x1="352.3" y1="306" x2="352.3" y2="304.3" stroke="#222" stroke-width="0.6"/>
<line x1="357.4" y1="306" x2="357.4" y2="304.3" stroke="#222" stroke-width="0.6"/>
<line x1="362.6" y1="306" x2="362.6" y2="304.3" stroke="#222" stroke-width="0.6"/>
<line x1="367.7" y1="306" x2="367.7" y2="304.3" stroke="#222" stroke-width="0.6"/>
<line x1="372.8" y1="306" x2="372.8" y2="304.3" stroke="#222" stroke-width="0.6"/>
<line x1="378" y1="306" x2="378" y2="304.3" stroke="#222" stroke-width="0.6"/>
<line x1="383.1" y1="306" x2="383.1" y2="304.3" stroke="#222" stroke-width="0.6"/>
<line x1="388.3" y1="306" x2="388.3" y2="304.3" stroke="#222" stroke-width="0.6"/>
<line x1="393.4" y1="306" x2="393.4" y2="304.3" stroke="#222" stroke-width="0.6"/>
<line x1="398.5" y1="306" x2="398.5" y2="304.3" stroke="#222" stroke-width="0.6"/>
<line x1="403.7" y1="306" x2="403.7" y2="304.3" stroke="#222" stroke-width="0.6"/>
<line x1="408.8" y1="306" x2="408.8" y2="304.3" stroke="#222" stroke-width="0.6"/>
<line x1="414" y1="306" x2="414" y2="304.3" stroke="#222" stroke-width="0.6"/>
<line x1="419.1" y1="306" x2="419.1" y2="304.3" stroke="#222" stroke-width="0.6"/>
<line x1="244.3" y1="25.6" x2="244.3" y2="28.6" stroke="#222" stroke-width="0.8"/>
<text x="244.3" y="20.6" font-size="9.2" text-anchor="middle" fill="#000">4000</text>
<line x1="267.1" y1="25.6" x2="267.1" y2="28.6" stroke="#222" stroke-width="0.8"/>
<text x="267.1" y="20.6" font-size="9.2" text-anchor="middle" fill="#000">3500</text>
<line x1="297.4" y1="25.6" x2="297.4" y2="28.6" stroke="#222" stroke-width="0.8"/>
<text x="297.4" y="20.6" font-size="9.2" text-anchor="middle" fill="#000">3000</text>
<line x1="339.9" y1="25.6" x2="339.9" y2="28.6" stroke="#222" stroke-width="0.8"/>
<text x="339.9" y="20.6" font-size="9.2" text-anchor="middle" fill="#000">2500</text>
<line x1="403.6" y1="25.6" x2="403.6" y2="28.6" stroke="#222" stroke-width="0.8"/>
<text x="403.6" y="20.6" font-size="9.2" text-anchor="middle" fill="#000">2000</text>
<line x1="420.4" y1="25.6" x2="420.4" y2="27.3" stroke="#222" stroke-width="0.6"/>
<line x1="388.5" y1="25.6" x2="388.5" y2="27.3" stroke="#222" stroke-width="0.6"/>
<line x1="374.7" y1="25.6" x2="374.7" y2="27.3" stroke="#222" stroke-width="0.6"/>
<line x1="362.1" y1="25.6" x2="362.1" y2="27.3" stroke="#222" stroke-width="0.6"/>
<line x1="350.5" y1="25.6" x2="350.5" y2="27.3" stroke="#222" stroke-width="0.6"/>
<line x1="330.1" y1="25.6" x2="330.1" y2="27.3" stroke="#222" stroke-width="0.6"/>
<line x1="321" y1="25.6" x2="321" y2="27.3" stroke="#222" stroke-width="0.6"/>
<line x1="312.6" y1="25.6" x2="312.6" y2="27.3" stroke="#222" stroke-width="0.6"/>
<line x1="304.8" y1="25.6" x2="304.8" y2="27.3" stroke="#222" stroke-width="0.6"/>
<line x1="290.6" y1="25.6" x2="290.6" y2="27.3" stroke="#222" stroke-width="0.6"/>
<line x1="284.1" y1="25.6" x2="284.1" y2="27.3" stroke="#222" stroke-width="0.6"/>
<line x1="278.1" y1="25.6" x2="278.1" y2="27.3" stroke="#222" stroke-width="0.6"/>
<line x1="272.4" y1="25.6" x2="272.4" y2="27.3" stroke="#222" stroke-width="0.6"/>
<line x1="262" y1="25.6" x2="262" y2="27.3" stroke="#222" stroke-width="0.6"/>
<line x1="257.2" y1="25.6" x2="257.2" y2="27.3" stroke="#222" stroke-width="0.6"/>
<line x1="252.7" y1="25.6" x2="252.7" y2="27.3" stroke="#222" stroke-width="0.6"/>
<line x1="248.4" y1="25.6" x2="248.4" y2="27.3" stroke="#222" stroke-width="0.6"/>
<line x1="240.4" y1="25.6" x2="240.4" y2="27.3" stroke="#222" stroke-width="0.6"/>
<text x="331.8" y="10.9" font-size="12.4" text-anchor="middle" fill="#000">Wavelength (nm)</text>
<text x="331.8" y="331.6" font-size="12.4" text-anchor="middle" fill="#000">Energy (eV)</text>
<text x="233" y="166.1" font-size="12.4" text-anchor="middle" fill="#000" transform="rotate(-90 233 166.1)">Normalized PL intensity (arb.u.)</text>
<path d="M239.2 95.8 L240.5 95.5 L241.8 95.2 L243.1 94.9 L244.4 95.5 L245.7 94.7 L247 95.7 L248.3 95 L249.6 94.9 L250.9 94.9 L252.2 94.6 L253.5 95.3 L254.8 95 L256.1 95.6 L257.4 94 L258.7 95.2 L260 93.9 L261.3 94.2 L262.6 93 L263.9 94.2 L265.2 92.7 L266.5 93.6 L267.8 93.6 L269.1 93.4 L270.4 93.5 L271.7 93.4 L273 93.1 L274.3 92 L275.6 92.4 L276.9 91.7 L278.2 91.9 L279.5 92.5 L280.8 91.5 L282.1 89.7 L283.4 91.1 L284.7 90.8 L286 89.9 L287.3 90.4 L288.6 88 L289.9 87.8 L291.2 88.1 L292.5 85.2 L293.8 84.3 L295.1 86.1 L296.4 84.5 L297.7 85.2 L299 83.8 L300.3 82.5 L301.6 81.4 L302.9 79 L304.2 77.3 L305.5 77.6 L306.8 75.6 L308.1 72.5 L309.4 71.3 L310.7 70.5 L312 68.8 L313.3 65.9 L314.6 63.4 L315.9 62.5 L317.2 60 L318.5 57.1 L319.8 55.2 L321.1 52.9 L322.4 51.3 L323.7 47.9 L325 45.7 L326.3 43.8 L327.6 42.9 L328.9 41.6 L330.2 38.7 L331.5 39.4 L332.8 39.8 L334.1 39.8 L335.4 42.1 L336.7 43.5 L338 46.8 L339.3 49.1 L340.6 51.6 L341.9 54.8 L343.2 58.1 L344.5 60.1 L345.8 62.8 L347.1 65.4 L348.4 69 L349.7 69.5 L351 72.1 L352.3 72.6 L353.6 74.6 L354.9 75.7 L356.2 76.9 L357.5 78 L358.8 79.2 L360.1 79.2 L361.4 81.3 L362.7 81.7 L364 81.6 L365.3 83.2 L366.6 83.3 L367.9 84.2 L369.2 84.9 L370.5 85.1 L371.8 84.8 L373.1 86.7 L374.4 86.8 L375.7 87.2 L377 88.5 L378.3 87.8 L379.6 88.5 L380.9 89.4 L382.2 89.8 L383.5 89.8 L384.8 89.6 L386.1 89.7 L387.4 90 L388.7 91 L390 90.6 L391.3 90.1 L392.6 90.8 L393.9 90.2 L395.2 90.1 L396.5 91.4 L397.8 91.4 L399.1 92.5 L400.4 91.4 L401.7 92.1 L403 91.4 L404.3 91.4 L405.6 93.7 L406.9 92.7 L408.2 92.5 L409.5 91.8 L410.8 92.9 L412.1 91.6 L413.4 93 L414.7 92.9 L416 92.2 L417.3 93.1 L418.6 92.9 L419.9 92.8 L421.2 93.7 L422.5 93.8 L424.4 93.5" fill="none" stroke="#30d4d6" stroke-width="1.5" stroke-linejoin="round"/>
<path d="M239.2 124.6 L240.5 124.1 L241.8 124.5 L243.1 123.7 L244.4 123.6 L245.7 122.3 L247 122.1 L248.3 123.7 L249.6 121.7 L250.9 123.7 L252.2 122.8 L253.5 122.7 L254.8 122 L256.1 122.4 L257.4 122.1 L258.7 122.5 L260 122.3 L261.3 121.8 L262.6 122 L263.9 122.7 L265.2 121.9 L266.5 122.3 L267.8 121.6 L269.1 120.2 L270.4 122.3 L271.7 121.2 L273 121.8 L274.3 121.1 L275.6 119.4 L276.9 120.6 L278.2 119.8 L279.5 117.9 L280.8 118.8 L282.1 118 L283.4 119.2 L284.7 118.4 L286 115.6 L287.3 116.4 L288.6 116.6 L289.9 115.3 L291.2 113.8 L292.5 114.9 L293.8 111.5 L295.1 113.6 L296.4 112.5 L297.7 110.7 L299 110.7 L300.3 106.7 L301.6 106.5 L302.9 105.8 L304.2 103.7 L305.5 102.4 L306.8 101 L308.1 98.8 L309.4 98.2 L310.7 96.9 L312 94.1 L313.3 91 L314.6 89 L315.9 87.1 L317.2 85.5 L318.5 83.4 L319.8 80.1 L321.1 80.4 L322.4 75.7 L323.7 75.2 L325 73.8 L326.3 71.9 L327.6 70.6 L328.9 68.7 L330.2 69.5 L331.5 68.6 L332.8 67.6 L334.1 69.4 L335.4 71.4 L336.7 72.4 L338 75.8 L339.3 77.7 L340.6 83.6 L341.9 83.6 L343.2 88.1 L344.5 91.3 L345.8 93.1 L347.1 95.3 L348.4 97.6 L349.7 98.2 L351 100.6 L352.3 102.1 L353.6 105.2 L354.9 104.8 L356.2 106.8 L357.5 107 L358.8 107.8 L360.1 110.3 L361.4 111.1 L362.7 111.1 L364 111.8 L365.3 112.6 L366.6 112.8 L367.9 112.8 L369.2 115.2 L370.5 114.4 L371.8 114 L373.1 114.7 L374.4 116 L375.7 118.3 L377 118.4 L378.3 117.4 L379.6 116.1 L380.9 117.3 L382.2 117.1 L383.5 117.9 L384.8 118.8 L386.1 119.3 L387.4 118.4 L388.7 118.6 L390 119.7 L391.3 118.3 L392.6 120.1 L393.9 120 L395.2 120.7 L396.5 119.4 L397.8 121.1 L399.1 121.3 L400.4 119.5 L401.7 120.5 L403 119.1 L404.3 121.4 L405.6 123 L406.9 121.5 L408.2 121.2 L409.5 120.8 L410.8 122 L412.1 122 L413.4 121.5 L414.7 120.8 L416 121.7 L417.3 122 L418.6 123 L419.9 122.8 L421.2 122.9 L422.5 122.8 L424.4 123.1" fill="none" stroke="#2ccccc" stroke-width="1.5" stroke-linejoin="round"/>
<path d="M239.2 151.6 L240.5 150.1 L241.8 150.8 L243.1 151.6 L244.4 150.1 L245.7 149 L247 149.4 L248.3 151.7 L249.6 151.9 L250.9 150.9 L252.2 150.9 L253.5 151.5 L254.8 149 L256.1 149.1 L257.4 148.3 L258.7 149.7 L260 149.6 L261.3 150.1 L262.6 148.1 L263.9 149.7 L265.2 149.1 L266.5 148.7 L267.8 148.8 L269.1 149.3 L270.4 146.6 L271.7 148.4 L273 147.8 L274.3 147.9 L275.6 148.8 L276.9 145.9 L278.2 146.7 L279.5 146 L280.8 145.8 L282.1 146 L283.4 145.4 L284.7 144.3 L286 144.4 L287.3 143.8 L288.6 142.9 L289.9 141.5 L291.2 142.1 L292.5 140.5 L293.8 139.4 L295.1 138.3 L296.4 137.4 L297.7 138.5 L299 136.4 L300.3 134.5 L301.6 133.1 L302.9 132.2 L304.2 130.8 L305.5 129.8 L306.8 126.3 L308.1 125.7 L309.4 123.8 L310.7 122.8 L312 119.7 L313.3 118.3 L314.6 115.3 L315.9 116.8 L317.2 112.7 L318.5 110.8 L319.8 111.2 L321.1 106.4 L322.4 103.3 L323.7 105.2 L325 103.7 L326.3 102 L327.6 100.5 L328.9 100.3 L330.2 97.1 L331.5 95.7 L332.8 97.3 L334.1 99.8 L335.4 100.7 L336.7 102.5 L338 105.9 L339.3 109.6 L340.6 111.8 L341.9 114.9 L343.2 118.3 L344.5 120.2 L345.8 122 L347.1 124 L348.4 126.6 L349.7 128.4 L351 131.1 L352.3 132.3 L353.6 133 L354.9 134.3 L356.2 136.5 L357.5 136.7 L358.8 138.2 L360.1 137.7 L361.4 139.3 L362.7 139.5 L364 139.4 L365.3 139.3 L366.6 141.5 L367.9 142.8 L369.2 143.4 L370.5 143 L371.8 143.2 L373.1 142.5 L374.4 144.1 L375.7 143.6 L377 144.1 L378.3 144 L379.6 144.9 L380.9 145.2 L382.2 144.5 L383.5 146.3 L384.8 146.3 L386.1 147.5 L387.4 147.5 L388.7 146.9 L390 148.2 L391.3 146.7 L392.6 145.5 L393.9 147.4 L395.2 147.2 L396.5 146.7 L397.8 146.6 L399.1 149.3 L400.4 147.1 L401.7 147.8 L403 148 L404.3 148.8 L405.6 149 L406.9 149.8 L408.2 147.2 L409.5 148.4 L410.8 148 L412.1 149.2 L413.4 148.4 L414.7 148.8 L416 150.4 L417.3 148.9 L418.6 148.9 L419.9 150.3 L421.2 150.6 L422.5 147.6 L424.4 148.9" fill="none" stroke="#24b4b4" stroke-width="1.5" stroke-linejoin="round"/>
<path d="M239.2 181.5 L240.5 180.8 L241.8 179.2 L243.1 179.2 L244.4 179.7 L245.7 178.1 L247 179.9 L248.3 177.9 L249.6 178.7 L250.9 177.2 L252.2 178.5 L253.5 178.9 L254.8 178.8 L256.1 177.9 L257.4 175.3 L258.7 176.9 L260 177.3 L261.3 178.1 L262.6 176.8 L263.9 177.5 L265.2 176.9 L266.5 175.8 L267.8 177.6 L269.1 176.7 L270.4 175.8 L271.7 176.2 L273 177.1 L274.3 175.2 L275.6 173.7 L276.9 175.2 L278.2 172 L279.5 173.7 L280.8 174.3 L282.1 173.1 L283.4 172.5 L284.7 170.9 L286 170.2 L287.3 170.8 L288.6 168.7 L289.9 171.2 L291.2 168.6 L292.5 169.2 L293.8 168.4 L295.1 166.4 L296.4 166.5 L297.7 164.8 L299 163.6 L300.3 162.2 L301.6 160.7 L302.9 160.3 L304.2 158.4 L305.5 155.7 L306.8 156 L308.1 154.1 L309.4 151.1 L310.7 151.5 L312 148.4 L313.3 146.5 L314.6 146.4 L315.9 141.6 L317.2 144.7 L318.5 139.1 L319.8 140.6 L321.1 135 L322.4 134.3 L323.7 131.4 L325 130.4 L326.3 129.3 L327.6 129 L328.9 126.6 L330.2 127.3 L331.5 125.2 L332.8 127.3 L334.1 125.6 L335.4 125.7 L336.7 127.2 L338 130 L339.3 130.4 L340.6 135.6 L341.9 137.2 L343.2 141.3 L344.5 144.5 L345.8 145.3 L347.1 148.9 L348.4 150.9 L349.7 153.4 L351 157.2 L352.3 159.4 L353.6 161.2 L354.9 160.3 L356.2 161.3 L357.5 162.8 L358.8 164.2 L360.1 166.1 L361.4 166.9 L362.7 165.6 L364 169.1 L365.3 169.5 L366.6 168.2 L367.9 168.6 L369.2 170.1 L370.5 169.5 L371.8 170.8 L373.1 171.4 L374.4 173.9 L375.7 173.3 L377 171.2 L378.3 173.9 L379.6 172.7 L380.9 174.4 L382.2 175.6 L383.5 175.6 L384.8 174.5 L386.1 176.4 L387.4 175.4 L388.7 176 L390 176.7 L391.3 176.5 L392.6 177 L393.9 175.4 L395.2 175.8 L396.5 175.8 L397.8 177 L399.1 176.6 L400.4 176.8 L401.7 178.2 L403 176.6 L404.3 176.6 L405.6 176.9 L406.9 177.2 L408.2 178.5 L409.5 177.9 L410.8 176 L412.1 176.9 L413.4 175.7 L414.7 178.5 L416 178.3 L417.3 175.6 L418.6 178 L419.9 177.3 L421.2 177.4 L422.5 177.3 L424.4 178.5" fill="none" stroke="#1c9a9a" stroke-width="1.5" stroke-linejoin="round"/>
<path d="M239.2 208.1 L240.5 208.6 L241.8 207.7 L243.1 207.8 L244.4 207 L245.7 207.9 L247 207.5 L248.3 207 L249.6 207.8 L250.9 207.2 L252.2 208.5 L253.5 207.6 L254.8 208.8 L256.1 206.4 L257.4 206.7 L258.7 205.7 L260 206.3 L261.3 206.7 L262.6 205.7 L263.9 206 L265.2 204.9 L266.5 205.9 L267.8 203.9 L269.1 206.1 L270.4 204.4 L271.7 203.3 L273 201.9 L274.3 202.9 L275.6 205.2 L276.9 202.9 L278.2 201 L279.5 201.1 L280.8 199.3 L282.1 201.9 L283.4 199.1 L284.7 199.4 L286 199.6 L287.3 198.2 L288.6 195.5 L289.9 197.6 L291.2 197.2 L292.5 194 L293.8 195 L295.1 193.4 L296.4 192.3 L297.7 190.8 L299 193.6 L300.3 189.7 L301.6 187.1 L302.9 188.5 L304.2 185.4 L305.5 185.5 L306.8 182.9 L308.1 179.8 L309.4 180.5 L310.7 178.1 L312 179.3 L313.3 176.4 L314.6 172.4 L315.9 171.6 L317.2 169.4 L318.5 166 L319.8 166.3 L321.1 163.3 L322.4 161.5 L323.7 161.7 L325 159.6 L326.3 157 L327.6 157.9 L328.9 155.6 L330.2 157.7 L331.5 152 L332.8 153.6 L334.1 152.4 L335.4 152.6 L336.7 154.5 L338 157.2 L339.3 157.5 L340.6 162.6 L341.9 166.3 L343.2 168.6 L344.5 171 L345.8 174.5 L347.1 175.9 L348.4 180.2 L349.7 182.7 L351 184.3 L352.3 185.4 L353.6 184.4 L354.9 189.2 L356.2 189.7 L357.5 193.1 L358.8 190.5 L360.1 194.7 L361.4 195.9 L362.7 194.5 L364 196.6 L365.3 198.9 L366.6 196.3 L367.9 199.5 L369.2 197.8 L370.5 197.8 L371.8 198.2 L373.1 201.1 L374.4 202.5 L375.7 200.6 L377 201.6 L378.3 200.9 L379.6 201.9 L380.9 203.9 L382.2 200.4 L383.5 203.3 L384.8 200.4 L386.1 203.3 L387.4 205.9 L388.7 203.9 L390 203.5 L391.3 205.8 L392.6 203.1 L393.9 203.7 L395.2 203.1 L396.5 205.4 L397.8 205.6 L399.1 204.4 L400.4 205 L401.7 204.2 L403 204.9 L404.3 204.6 L405.6 205.5 L406.9 205.3 L408.2 204.3 L409.5 207.2 L410.8 206.9 L412.1 207.7 L413.4 205.2 L414.7 206.7 L416 206.4 L417.3 208.2 L418.6 207.1 L419.9 207.5 L421.2 207.7 L422.5 207.4 L424.4 208" fill="none" stroke="#168080" stroke-width="1.5" stroke-linejoin="round"/>
<path d="M239.2 235.1 L240.5 237.4 L241.8 235.2 L243.1 236.1 L244.4 236.6 L245.7 235.4 L247 237.3 L248.3 235.6 L249.6 237.1 L250.9 236.5 L252.2 235.7 L253.5 238.1 L254.8 234.6 L256.1 234 L257.4 235.5 L258.7 234 L260 234.1 L261.3 233.8 L262.6 233.1 L263.9 234.8 L265.2 232.8 L266.5 233.7 L267.8 233.7 L269.1 233.1 L270.4 232.3 L271.7 230.6 L273 230.4 L274.3 229.4 L275.6 229.1 L276.9 226.3 L278.2 228.3 L279.5 228.7 L280.8 226.6 L282.1 228.1 L283.4 230.6 L284.7 226.7 L286 225.9 L287.3 225.9 L288.6 225.4 L289.9 223.7 L291.2 222.8 L292.5 221.7 L293.8 219.5 L295.1 220.4 L296.4 220.5 L297.7 218.1 L299 215.4 L300.3 217.1 L301.6 214.4 L302.9 213.6 L304.2 211.9 L305.5 211.7 L306.8 209.6 L308.1 206.4 L309.4 207.6 L310.7 205.6 L312 203.6 L313.3 199.4 L314.6 199.6 L315.9 196.7 L317.2 193.6 L318.5 195 L319.8 192.2 L321.1 191.6 L322.4 189.5 L323.7 189.4 L325 186.2 L326.3 186.2 L327.6 183 L328.9 185.3 L330.2 183.4 L331.5 183 L332.8 182.4 L334.1 183 L335.4 185.5 L336.7 185.2 L338 188.3 L339.3 191.5 L340.6 194.4 L341.9 197.4 L343.2 203.1 L344.5 207.2 L345.8 208.6 L347.1 212.7 L348.4 214.4 L349.7 218.8 L351 220.6 L352.3 220.1 L353.6 225.1 L354.9 223.6 L356.2 226.8 L357.5 228.7 L358.8 228.1 L360.1 230.2 L361.4 227.7 L362.7 231.8 L364 229.1 L365.3 231.1 L366.6 230.8 L367.9 232.8 L369.2 231.3 L370.5 231.7 L371.8 233.6 L373.1 232.1 L374.4 232.9 L375.7 235 L377 234.7 L378.3 233.7 L379.6 231.4 L380.9 235.3 L382.2 235.7 L383.5 234.7 L384.8 232.5 L386.1 232.6 L387.4 233.1 L388.7 234.5 L390 233.3 L391.3 233.6 L392.6 235.4 L393.9 233.5 L395.2 234.5 L396.5 232.5 L397.8 234.8 L399.1 235.7 L400.4 235 L401.7 234.8 L403 237.5 L404.3 236 L405.6 233.5 L406.9 234.9 L408.2 234.5 L409.5 233.9 L410.8 235.1 L412.1 235 L413.4 235.3 L414.7 235.5 L416 234.9 L417.3 236 L418.6 233.6 L419.9 236.9 L421.2 232.5 L422.5 234.5 L424.4 233.5" fill="none" stroke="#0f6262" stroke-width="1.5" stroke-linejoin="round"/>
<path d="M239.2 266.5 L240.5 265.1 L241.8 264.6 L243.1 261.8 L244.4 267.3 L245.7 261.7 L247 264.2 L248.3 264.5 L249.6 261.1 L250.9 262.4 L252.2 263.3 L253.5 264.3 L254.8 261.4 L256.1 263.5 L257.4 260.2 L258.7 259.6 L260 258.2 L261.3 260.8 L262.6 258.2 L263.9 258.5 L265.2 259.6 L266.5 257.4 L267.8 257.1 L269.1 257.5 L270.4 258.5 L271.7 255.1 L273 254.4 L274.3 253.2 L275.6 254.2 L276.9 253.8 L278.2 250.5 L279.5 251.4 L280.8 252.3 L282.1 251 L283.4 250.9 L284.7 249.9 L286 250.4 L287.3 250.3 L288.6 246.5 L289.9 244.6 L291.2 245.5 L292.5 246.1 L293.8 248 L295.1 240.5 L296.4 243.6 L297.7 242.8 L299 242.7 L300.3 241.7 L301.6 238.9 L302.9 237.5 L304.2 238.7 L305.5 238.6 L306.8 233 L308.1 235.1 L309.4 235.7 L310.7 234.2 L312 233.6 L313.3 232.6 L314.6 229.8 L315.9 229.8 L317.2 229 L318.5 226.5 L319.8 227.8 L321.1 222.8 L322.4 222.3 L323.7 224.5 L325 219 L326.3 216.7 L327.6 214.5 L328.9 210.3 L330.2 210.4 L331.5 208 L332.8 208.1 L334.1 212.7 L335.4 213.3 L336.7 216.2 L338 218.6 L339.3 224.4 L340.6 226.9 L341.9 233 L343.2 234.3 L344.5 240.6 L345.8 239.3 L347.1 241.6 L348.4 244 L349.7 247.1 L351 246.6 L352.3 249.5 L353.6 250.9 L354.9 253.1 L356.2 251.1 L357.5 257.5 L358.8 256.9 L360.1 258.3 L361.4 255.9 L362.7 257.9 L364 258.5 L365.3 258.4 L366.6 259.5 L367.9 257 L369.2 260.2 L370.5 258.9 L371.8 259.6 L373.1 259.8 L374.4 260.5 L375.7 261.6 L377 260.5 L378.3 262.6 L379.6 259.3 L380.9 260.5 L382.2 263 L383.5 261.2 L384.8 257.9 L386.1 260.5 L387.4 261.3 L388.7 262.9 L390 262 L391.3 259.6 L392.6 263.1 L393.9 261 L395.2 259.3 L396.5 263.5 L397.8 259.3 L399.1 259.8 L400.4 263.9 L401.7 259.5 L403 259.3 L404.3 261.4 L405.6 263.8 L406.9 260.3 L408.2 261.4 L409.5 264.9 L410.8 261.4 L412.1 259.5 L413.4 262.4 L414.7 263.5 L416 260.1 L417.3 259.4 L418.6 258.2 L419.9 261 L421.2 258.9 L422.5 260.3 L424.4 260.8" fill="none" stroke="#0a4242" stroke-width="1.5" stroke-linejoin="round"/>
<path d="M239.2 284.1 L240.6 289.6 L242 291.7 L243.4 288.5 L244.8 293.8 L246.2 295.7 L247.6 288.2 L249 296.1 L250.4 292.2 L251.8 290.4 L253.2 289.8 L254.6 292.8 L256 287.2 L257.4 298.1 L258.8 291.5 L260.2 293.6 L261.6 290.6 L263.1 291.5 L264.5 290.1 L265.9 289.5 L267.3 289.7 L268.7 282.5 L270.1 284 L271.5 291.8 L272.9 288.5 L274.3 284.1 L275.7 283.7 L277.1 282.5 L278.5 282.6 L279.9 286.1 L281.3 277.2 L282.7 282.7 L284.1 278.4 L285.5 282.5 L286.9 280 L288.3 275.2 L289.7 275.7 L291.1 271.5 L292.5 278.5 L293.9 274.2 L295.3 275.1 L296.7 280.3 L298.1 272.7 L299.5 277.1 L300.9 269.2 L302.3 278.9 L303.7 268.4 L305.1 270.1 L306.5 270 L307.9 268.4 L309.4 267.1 L310.8 272.5 L312.2 262.9 L313.6 271.2 L315 269.8 L316.4 264.1 L317.8 255 L319.2 263.2 L320.6 258.3 L322 255.9 L323.4 252.8 L324.8 255.9 L326.2 258.1 L327.6 256 L329 258 L330.4 259.8 L331.8 261 L333.2 265 L334.6 260.1 L336 265.7 L337.4 259 L338.8 263 L340.2 268.1 L341.6 271.4 L343 284.8 L344.4 270.6 L345.8 286.3 L347.2 286.6 L348.6 282.7 L350 285.6 L351.4 292.2 L352.8 294.5 L354.2 286.3 L355.7 287.7 L357.1 289.5 L358.5 292.2 L359.9 292.7 L361.3 300.9 L362.7 294.5 L364.1 290.6 L365.5 291.4 L366.9 291.9 L368.3 294.2 L369.7 291.2 L371.1 289.8 L372.5 286.2 L373.9 284.5 L375.3 292.4 L376.7 293.3 L378.1 294.3 L379.5 294.1 L380.9 292.9 L382.3 294 L383.7 296 L385.1 293.3 L386.5 292.9 L387.9 297.9 L389.3 296.4 L390.7 302.2 L392.1 284.5 L393.5 296.5 L394.9 286.3 L396.3 286.4 L397.7 294.7 L399.1 287.9 L400.5 286.8 L402 294.2 L403.4 287.6 L404.8 285.7 L406.2 286.9 L407.6 284.2 L409 279.4 L410.4 281.6 L411.8 282.9 L413.2 287.7 L414.6 282.9 L416 285.7 L417.4 278.7 L418.8 283.3 L420.2 280 L421.6 280.1 L423 275.5 L424.4 279.7" fill="none" stroke="#000000" stroke-width="1.5" stroke-linejoin="round"/>
<text x="421.6" y="81.8" font-size="9.3" text-anchor="end" fill="#30d4d6">2.3 K</text>
<text x="421.6" y="110" font-size="9.3" text-anchor="end" fill="#2ccccc">6 K</text>
<text x="421.6" y="138.2" font-size="9.3" text-anchor="end" fill="#24b4b4">15 K</text>
<text x="421.6" y="166.4" font-size="9.3" text-anchor="end" fill="#1c9a9a">25 K</text>
<text x="421.6" y="194.6" font-size="9.3" text-anchor="end" fill="#168080">40 K</text>
<text x="421.6" y="222.8" font-size="9.3" text-anchor="end" fill="#0f6262">60 K</text>
<text x="421.6" y="251" font-size="9.3" text-anchor="end" fill="#0a4242">100 K</text>
<text x="421.6" y="279.2" font-size="9.3" text-anchor="end" fill="#000000">150 K</text>
<text x="243.2" y="57.4" font-size="35" text-anchor="start" fill="#000">b</text>
<rect x="16.8" y="373.2" width="185.5" height="280.3" fill="none" stroke="#222" stroke-width="0.9"/>
<line x1="16.8" y1="653.5" x2="16.8" y2="650.5" stroke="#222" stroke-width="0.8"/>
<text x="16.8" y="664.5" font-size="9.2" text-anchor="middle" fill="#000">0.25</text>
<line x1="47.7" y1="653.5" x2="47.7" y2="650.5" stroke="#222" stroke-width="0.8"/>
<text x="47.7" y="664.5" font-size="9.2" text-anchor="middle" fill="#000">0.30</text>
<line x1="78.6" y1="653.5" x2="78.6" y2="650.5" stroke="#222" stroke-width="0.8"/>
<text x="78.6" y="664.5" font-size="9.2" text-anchor="middle" fill="#000">0.35</text>
<line x1="109.5" y1="653.5" x2="109.5" y2="650.5" stroke="#222" stroke-width="0.8"/>
<text x="109.5" y="664.5" font-size="9.2" text-anchor="middle" fill="#000">0.40</text>
<line x1="140.4" y1="653.5" x2="140.4" y2="650.5" stroke="#222" stroke-width="0.8"/>
<text x="140.4" y="664.5" font-size="9.2" text-anchor="middle" fill="#000">0.45</text>
<line x1="171.3" y1="653.5" x2="171.3" y2="650.5" stroke="#222" stroke-width="0.8"/>
<text x="171.3" y="664.5" font-size="9.2" text-anchor="middle" fill="#000">0.50</text>
<line x1="202.2" y1="653.5" x2="202.2" y2="650.5" stroke="#222" stroke-width="0.8"/>
<text x="202.2" y="664.5" font-size="9.2" text-anchor="middle" fill="#000">0.55</text>
<line x1="23" y1="653.5" x2="23" y2="651.8" stroke="#222" stroke-width="0.6"/>
<line x1="29.2" y1="653.5" x2="29.2" y2="651.8" stroke="#222" stroke-width="0.6"/>
<line x1="35.3" y1="653.5" x2="35.3" y2="651.8" stroke="#222" stroke-width="0.6"/>
<line x1="41.5" y1="653.5" x2="41.5" y2="651.8" stroke="#222" stroke-width="0.6"/>
<line x1="47.7" y1="653.5" x2="47.7" y2="651.8" stroke="#222" stroke-width="0.6"/>
<line x1="53.9" y1="653.5" x2="53.9" y2="651.8" stroke="#222" stroke-width="0.6"/>
<line x1="60.1" y1="653.5" x2="60.1" y2="651.8" stroke="#222" stroke-width="0.6"/>
<line x1="66.2" y1="653.5" x2="66.2" y2="651.8" stroke="#222" stroke-width="0.6"/>
<line x1="72.4" y1="653.5" x2="72.4" y2="651.8" stroke="#222" stroke-width="0.6"/>
<line x1="78.6" y1="653.5" x2="78.6" y2="651.8" stroke="#222" stroke-width="0.6"/>
<line x1="84.8" y1="653.5" x2="84.8" y2="651.8" stroke="#222" stroke-width="0.6"/>
<line x1="91" y1="653.5" x2="91" y2="651.8" stroke="#222" stroke-width="0.6"/>
<line x1="97.1" y1="653.5" x2="97.1" y2="651.8" stroke="#222" stroke-width="0.6"/>
<line x1="103.3" y1="653.5" x2="103.3" y2="651.8" stroke="#222" stroke-width="0.6"/>
<line x1="109.5" y1="653.5" x2="109.5" y2="651.8" stroke="#222" stroke-width="0.6"/>
<line x1="115.7" y1="653.5" x2="115.7" y2="651.8" stroke="#222" stroke-width="0.6"/>
<line x1="121.9" y1="653.5" x2="121.9" y2="651.8" stroke="#222" stroke-width="0.6"/>
<line x1="128" y1="653.5" x2="128" y2="651.8" stroke="#222" stroke-width="0.6"/>
<line x1="134.2" y1="653.5" x2="134.2" y2="651.8" stroke="#222" stroke-width="0.6"/>
<line x1="140.4" y1="653.5" x2="140.4" y2="651.8" stroke="#222" stroke-width="0.6"/>
<line x1="146.6" y1="653.5" x2="146.6" y2="651.8" stroke="#222" stroke-width="0.6"/>
<line x1="152.8" y1="653.5" x2="152.8" y2="651.8" stroke="#222" stroke-width="0.6"/>
<line x1="158.9" y1="653.5" x2="158.9" y2="651.8" stroke="#222" stroke-width="0.6"/>
<line x1="165.1" y1="653.5" x2="165.1" y2="651.8" stroke="#222" stroke-width="0.6"/>
<line x1="171.3" y1="653.5" x2="171.3" y2="651.8" stroke="#222" stroke-width="0.6"/>
<line x1="177.5" y1="653.5" x2="177.5" y2="651.8" stroke="#222" stroke-width="0.6"/>
<line x1="183.7" y1="653.5" x2="183.7" y2="651.8" stroke="#222" stroke-width="0.6"/>
<line x1="189.8" y1="653.5" x2="189.8" y2="651.8" stroke="#222" stroke-width="0.6"/>
<line x1="196" y1="653.5" x2="196" y2="651.8" stroke="#222" stroke-width="0.6"/>
<line x1="32.6" y1="373.2" x2="32.6" y2="376.2" stroke="#222" stroke-width="0.8"/>
<text x="32.6" y="368.2" font-size="9.2" text-anchor="middle" fill="#000">4500</text>
<line x1="53.9" y1="373.2" x2="53.9" y2="376.2" stroke="#222" stroke-width="0.8"/>
<text x="53.9" y="368.2" font-size="9.2" text-anchor="middle" fill="#000">4000</text>
<line x1="81.2" y1="373.2" x2="81.2" y2="376.2" stroke="#222" stroke-width="0.8"/>
<text x="81.2" y="368.2" font-size="9.2" text-anchor="middle" fill="#000">3500</text>
<line x1="117.7" y1="373.2" x2="117.7" y2="376.2" stroke="#222" stroke-width="0.8"/>
<text x="117.7" y="368.2" font-size="9.2" text-anchor="middle" fill="#000">3000</text>
<line x1="168.8" y1="373.2" x2="168.8" y2="376.2" stroke="#222" stroke-width="0.8"/>
<text x="168.8" y="368.2" font-size="9.2" text-anchor="middle" fill="#000">2500</text>
<line x1="195.4" y1="373.2" x2="195.4" y2="374.9" stroke="#222" stroke-width="0.6"/>
<line x1="181.6" y1="373.2" x2="181.6" y2="374.9" stroke="#222" stroke-width="0.6"/>
<line x1="157" y1="373.2" x2="157" y2="374.9" stroke="#222" stroke-width="0.6"/>
<line x1="146.1" y1="373.2" x2="146.1" y2="374.9" stroke="#222" stroke-width="0.6"/>
<line x1="136" y1="373.2" x2="136" y2="374.9" stroke="#222" stroke-width="0.6"/>
<line x1="126.5" y1="373.2" x2="126.5" y2="374.9" stroke="#222" stroke-width="0.6"/>
<line x1="109.5" y1="373.2" x2="109.5" y2="374.9" stroke="#222" stroke-width="0.6"/>
<line x1="101.7" y1="373.2" x2="101.7" y2="374.9" stroke="#222" stroke-width="0.6"/>
<line x1="94.5" y1="373.2" x2="94.5" y2="374.9" stroke="#222" stroke-width="0.6"/>
<line x1="87.7" y1="373.2" x2="87.7" y2="374.9" stroke="#222" stroke-width="0.6"/>
<line x1="75.1" y1="373.2" x2="75.1" y2="374.9" stroke="#222" stroke-width="0.6"/>
<line x1="69.4" y1="373.2" x2="69.4" y2="374.9" stroke="#222" stroke-width="0.6"/>
<line x1="63.9" y1="373.2" x2="63.9" y2="374.9" stroke="#222" stroke-width="0.6"/>
<line x1="58.8" y1="373.2" x2="58.8" y2="374.9" stroke="#222" stroke-width="0.6"/>
<line x1="49.2" y1="373.2" x2="49.2" y2="374.9" stroke="#222" stroke-width="0.6"/>
<line x1="44.7" y1="373.2" x2="44.7" y2="374.9" stroke="#222" stroke-width="0.6"/>
<line x1="40.5" y1="373.2" x2="40.5" y2="374.9" stroke="#222" stroke-width="0.6"/>
<line x1="36.4" y1="373.2" x2="36.4" y2="374.9" stroke="#222" stroke-width="0.6"/>
<line x1="28.9" y1="373.2" x2="28.9" y2="374.9" stroke="#222" stroke-width="0.6"/>
<line x1="25.3" y1="373.2" x2="25.3" y2="374.9" stroke="#222" stroke-width="0.6"/>
<line x1="21.9" y1="373.2" x2="21.9" y2="374.9" stroke="#222" stroke-width="0.6"/>
<line x1="18.7" y1="373.2" x2="18.7" y2="374.9" stroke="#222" stroke-width="0.6"/>
<text x="109.6" y="358.5" font-size="12.4" text-anchor="middle" fill="#000">Wavelength (nm)</text>
<text x="109.6" y="679.1" font-size="12.4" text-anchor="middle" fill="#000">Energy (eV)</text>
<text x="10.6" y="513.6" font-size="12.4" text-anchor="middle" fill="#000" transform="rotate(-90 10.6 513.6)">Normalized PL intensity (arb.u.)</text>
<path d="M16.8 463.5 L18.1 463.5 L19.4 464.2 L20.7 463.7 L22 463.9 L23.3 463.3 L24.6 463.5 L25.9 463.6 L27.2 463.3 L28.5 463.8 L29.8 463.9 L31.1 463.9 L32.4 464.4 L33.7 464.1 L35 463 L36.3 463.5 L37.6 463.6 L38.9 462.7 L40.1 463.1 L41.4 464.2 L42.7 462.1 L44 462.5 L45.3 462.6 L46.6 462.8 L47.9 462.9 L49.2 462.2 L50.5 461 L51.8 460.8 L53.1 460.5 L54.4 461.8 L55.7 460.8 L57 459.7 L58.3 461 L59.6 459.8 L60.9 459.4 L62.2 457.3 L63.5 455.5 L64.8 454.9 L66.1 453.1 L67.4 451.6 L68.7 449.8 L70 446.6 L71.3 444.7 L72.6 441 L73.9 436.9 L75.2 434.6 L76.5 431.5 L77.8 429.3 L79.1 426.1 L80.4 423.5 L81.7 420.2 L83 416.2 L84.3 413.3 L85.6 411.6 L86.8 408.7 L88.1 406 L89.4 404.1 L90.7 401.5 L92 399.7 L93.3 399.7 L94.6 399.7 L95.9 399.2 L97.2 399.5 L98.5 399.8 L99.8 400.6 L101.1 400 L102.4 401.1 L103.7 402.1 L105 402.9 L106.3 402.5 L107.6 403.1 L108.9 401.9 L110.2 400.5 L111.5 399.1 L112.8 397.9 L114.1 395.9 L115.4 393.1 L116.7 391.5 L118 390.6 L119.3 388.7 L120.6 387.9 L121.9 387.2 L123.2 387 L124.5 386.9 L125.8 387.1 L127.1 387.5 L128.4 388 L129.7 388.3 L131 389.9 L132.3 392.4 L133.5 393.9 L134.8 397.6 L136.1 400.6 L137.4 404.8 L138.7 408 L140 411.9 L141.3 414.6 L142.6 417.7 L143.9 420.1 L145.2 423.4 L146.5 425.5 L147.8 428.8 L149.1 430.5 L150.4 432.6 L151.7 435.5 L153 437.8 L154.3 440.1 L155.6 442.4 L156.9 444.2 L158.2 444.8 L159.5 447.5 L160.8 449.5 L162.1 450.5 L163.4 450.7 L164.7 452.1 L166 453.5 L167.3 454.6 L168.6 455.5 L169.9 456 L171.2 457.2 L172.5 456.8 L173.8 458 L175.1 457 L176.4 457.4 L177.7 457 L179 457.1 L180.2 456.8 L181.5 457.6 L182.8 457.4 L184.1 457.5 L185.4 456.7 L186.7 456.2 L188 457.2 L189.3 457.1 L190.6 457 L191.9 456.9 L193.2 457.3 L194.5 456.8 L195.8 456.1 L197.1 456.3 L198.4 455.9 L199.7 456.5 L201 455.7 L202.3 456.7" fill="none" stroke="#f01818" stroke-width="1.5" stroke-linejoin="round"/>
<path d="M16.8 489.9 L18.1 491.3 L19.4 490.1 L20.7 490.7 L22 490.8 L23.3 491.6 L24.6 490.7 L25.9 492.2 L27.2 490.8 L28.5 492.2 L29.8 491.2 L31.1 491.1 L32.4 489.4 L33.7 490.2 L35 491 L36.3 490.3 L37.6 489.9 L38.9 489.9 L40.1 491.2 L41.4 491.6 L42.7 491.2 L44 489.2 L45.3 490.6 L46.6 491.2 L47.9 488.7 L49.2 490.3 L50.5 489.7 L51.8 489.3 L53.1 490 L54.4 488.1 L55.7 487.6 L57 488.7 L58.3 487.3 L59.6 487 L60.9 484.8 L62.2 483.7 L63.5 482.6 L64.8 480.5 L66.1 479.3 L67.4 476.8 L68.7 474.7 L70 471.4 L71.3 467.5 L72.6 466.5 L73.9 463 L75.2 460.9 L76.5 458.4 L77.8 454.1 L79.1 451.9 L80.4 448.7 L81.7 445 L83 441.8 L84.3 440 L85.6 438.4 L86.8 437.7 L88.1 436.3 L89.4 436.4 L90.7 436.1 L92 436.1 L93.3 433.7 L94.6 434.3 L95.9 434.8 L97.2 434.1 L98.5 434.4 L99.8 433.8 L101.1 433.8 L102.4 433.4 L103.7 434.3 L105 433.5 L106.3 431.8 L107.6 430.8 L108.9 431 L110.2 427.6 L111.5 426.1 L112.8 423.9 L114.1 423.6 L115.4 421 L116.7 419.6 L118 416.7 L119.3 415.6 L120.6 414.5 L121.9 414.8 L123.2 415.2 L124.5 416.1 L125.8 418.7 L127.1 420.5 L128.4 425.3 L129.7 427.7 L131 432.5 L132.3 435.1 L133.5 438.4 L134.8 441.2 L136.1 444.9 L137.4 447.6 L138.7 452.9 L140 456.1 L141.3 460.6 L142.6 463.4 L143.9 466.7 L145.2 470.9 L146.5 472.4 L147.8 475.3 L149.1 477.3 L150.4 478.2 L151.7 480.8 L153 481.1 L154.3 481.1 L155.6 484 L156.9 483.5 L158.2 484.7 L159.5 485 L160.8 485.6 L162.1 486.7 L163.4 486.4 L164.7 486.1 L166 487 L167.3 485.6 L168.6 486.3 L169.9 485.5 L171.2 486.9 L172.5 485.7 L173.8 486.2 L175.1 486.1 L176.4 486.7 L177.7 485.4 L179 486 L180.2 485.6 L181.5 485.5 L182.8 485.5 L184.1 485.2 L185.4 485.1 L186.7 485.5 L188 484.8 L189.3 486 L190.6 486 L191.9 485.1 L193.2 483.8 L194.5 484.5 L195.8 483.1 L197.1 484 L198.4 484.4 L199.7 484.5 L201 484.1 L202.3 484.5" fill="none" stroke="#e01414" stroke-width="1.5" stroke-linejoin="round"/>
<path d="M16.8 518.3 L18.1 517.4 L19.4 516.9 L20.7 517.5 L22 518 L23.3 518.2 L24.6 517.5 L25.9 518.7 L27.2 518.4 L28.5 517.8 L29.8 518.9 L31.1 518.6 L32.4 518.6 L33.7 518.7 L35 518.9 L36.3 519.3 L37.6 520 L38.9 518.9 L40.1 517.7 L41.4 518.5 L42.7 519.4 L44 518.3 L45.3 518.6 L46.6 517.5 L47.9 517.2 L49.2 516 L50.5 516.1 L51.8 517.2 L53.1 516.2 L54.4 515.5 L55.7 515.4 L57 514.4 L58.3 514.2 L59.6 514.1 L60.9 512.4 L62.2 513.2 L63.5 509 L64.8 509.3 L66.1 507.3 L67.4 505.2 L68.7 503.2 L70 499.8 L71.3 497.9 L72.6 494.1 L73.9 491 L75.2 487.2 L76.5 484.6 L77.8 481.2 L79.1 479.4 L80.4 476.1 L81.7 475.8 L83 472.6 L84.3 471.7 L85.6 470.9 L86.8 468.9 L88.1 467.8 L89.4 466.1 L90.7 466 L92 464.9 L93.3 465.9 L94.6 464.5 L95.9 462.8 L97.2 463.1 L98.5 461 L99.8 459.3 L101.1 458.8 L102.4 456.6 L103.7 455.3 L105 454 L106.3 453.6 L107.6 451.3 L108.9 449.5 L110.2 447.8 L111.5 447.3 L112.8 443.5 L114.1 443.7 L115.4 440.9 L116.7 441.5 L118 440.6 L119.3 441.7 L120.6 442.3 L121.9 444.9 L123.2 445 L124.5 448.7 L125.8 450.9 L127.1 453.9 L128.4 459.3 L129.7 465.3 L131 468.9 L132.3 472.4 L133.5 477.8 L134.8 480.9 L136.1 485.3 L137.4 489.5 L138.7 492.6 L140 495.8 L141.3 500.3 L142.6 503.5 L143.9 506.5 L145.2 508.4 L146.5 509.2 L147.8 510.5 L149.1 513 L150.4 511.7 L151.7 510.4 L153 511.8 L154.3 514.1 L155.6 512.8 L156.9 512 L158.2 512.7 L159.5 512.4 L160.8 512.5 L162.1 511.5 L163.4 513 L164.7 512.4 L166 511.6 L167.3 512.6 L168.6 513 L169.9 511.8 L171.2 513.1 L172.5 512.6 L173.8 513.8 L175.1 512.6 L176.4 512.3 L177.7 513.9 L179 512.8 L180.2 512.1 L181.5 514.7 L182.8 513.8 L184.1 512.8 L185.4 511.4 L186.7 511.9 L188 513.4 L189.3 511.4 L190.6 512.4 L191.9 511.5 L193.2 512.3 L194.5 511.3 L195.8 511.7 L197.1 512.4 L198.4 512.6 L199.7 512.9 L201 510.8 L202.3 512" fill="none" stroke="#c81010" stroke-width="1.5" stroke-linejoin="round"/>
<path d="M16.8 546.4 L18.1 544.7 L19.4 545.1 L20.7 546.6 L22 544.8 L23.3 543.9 L24.6 543.3 L25.9 544 L27.2 542.8 L28.5 544.7 L29.8 544.2 L31.1 543.4 L32.4 542.7 L33.7 543.5 L35 543.5 L36.3 543.6 L37.6 543.1 L38.9 544.4 L40.1 545.1 L41.4 543.1 L42.7 543.5 L44 543.3 L45.3 544.4 L46.6 543.7 L47.9 543.6 L49.2 544.3 L50.5 542.7 L51.8 542.9 L53.1 542.8 L54.4 541.2 L55.7 541.5 L57 540 L58.3 540 L59.6 540.5 L60.9 538.7 L62.2 536.7 L63.5 537.8 L64.8 535.3 L66.1 535.1 L67.4 531.6 L68.7 531.2 L70 527.5 L71.3 527.4 L72.6 524.3 L73.9 519.1 L75.2 517.3 L76.5 514.4 L77.8 511.1 L79.1 509.8 L80.4 509 L81.7 506.2 L83 500.1 L84.3 499.8 L85.6 495.1 L86.8 493 L88.1 489.9 L89.4 490.2 L90.7 490 L92 489.2 L93.3 486.6 L94.6 484.4 L95.9 482.7 L97.2 482.1 L98.5 480.9 L99.8 479 L101.1 477.2 L102.4 476.2 L103.7 475.2 L105 474.1 L106.3 474.4 L107.6 473.9 L108.9 471.6 L110.2 469.3 L111.5 468 L112.8 468.3 L114.1 468.8 L115.4 470.2 L116.7 472.6 L118 474.2 L119.3 475.4 L120.6 481.8 L121.9 483.8 L123.2 486.9 L124.5 490.5 L125.8 493.4 L127.1 497.2 L128.4 500.6 L129.7 505.4 L131 508.7 L132.3 514.5 L133.5 518.6 L134.8 524.1 L136.1 526.9 L137.4 531.9 L138.7 533.5 L140 537 L141.3 537.8 L142.6 539.6 L143.9 540.1 L145.2 540.1 L146.5 539.6 L147.8 540.3 L149.1 540 L150.4 541.5 L151.7 539.5 L153 540.7 L154.3 540.6 L155.6 542.2 L156.9 541.9 L158.2 542.3 L159.5 540.5 L160.8 541.4 L162.1 539.9 L163.4 542.6 L164.7 540.3 L166 539.2 L167.3 541.9 L168.6 540.9 L169.9 541.1 L171.2 540.8 L172.5 541.2 L173.8 540.4 L175.1 540.4 L176.4 542 L177.7 539.9 L179 540.9 L180.2 540.5 L181.5 541.6 L182.8 541 L184.1 540.7 L185.4 541.9 L186.7 540.9 L188 541.2 L189.3 541 L190.6 540.6 L191.9 540.8 L193.2 538.9 L194.5 541.9 L195.8 540.6 L197.1 540.2 L198.4 542.1 L199.7 540.2 L201 540.6 L202.3 539.9" fill="none" stroke="#a40c0c" stroke-width="1.5" stroke-linejoin="round"/>
<path d="M16.8 571.8 L18.1 571.9 L19.4 571.8 L20.7 570.3 L22 571.4 L23.3 572.8 L24.6 570.8 L25.9 572.6 L27.2 571.5 L28.5 573.1 L29.8 572.2 L31.1 571.7 L32.4 571.8 L33.7 571.3 L35 571 L36.3 571.9 L37.6 570.5 L38.9 572.4 L40.1 573.9 L41.4 570.8 L42.7 570.8 L44 573.1 L45.3 571 L46.6 571.5 L47.9 571.2 L49.2 572.1 L50.5 568.3 L51.8 572.9 L53.1 570.3 L54.4 568.9 L55.7 567.7 L57 567.1 L58.3 566.4 L59.6 567.6 L60.9 565.8 L62.2 563.6 L63.5 561.4 L64.8 559.7 L66.1 557.3 L67.4 557.4 L68.7 554.2 L70 551 L71.3 548.4 L72.6 547.8 L73.9 543.7 L75.2 538.6 L76.5 537.4 L77.8 535.3 L79.1 532.9 L80.4 529.6 L81.7 528 L83 526.3 L84.3 524.2 L85.6 520.2 L86.8 518.4 L88.1 515.4 L89.4 511.9 L90.7 509.4 L92 507.4 L93.3 503.8 L94.6 501.4 L95.9 501.4 L97.2 501.7 L98.5 500.7 L99.8 500.5 L101.1 498.8 L102.4 495.7 L103.7 494.5 L105 495.6 L106.3 497.7 L107.6 498.3 L108.9 499.2 L110.2 500.1 L111.5 501.9 L112.8 502.6 L114.1 505.2 L115.4 504.8 L116.7 510.5 L118 512.9 L119.3 514.6 L120.6 521.8 L121.9 527 L123.2 528.6 L124.5 536.8 L125.8 539 L127.1 543.6 L128.4 549 L129.7 553 L131 556.1 L132.3 559.6 L133.5 561.1 L134.8 564.6 L136.1 563.4 L137.4 565.1 L138.7 565.7 L140 565.2 L141.3 567.2 L142.6 567.2 L143.9 565.9 L145.2 567.9 L146.5 565.9 L147.8 565.5 L149.1 566.1 L150.4 566.6 L151.7 566.7 L153 568.8 L154.3 567 L155.6 565.2 L156.9 566.3 L158.2 565.7 L159.5 568.4 L160.8 567.6 L162.1 566.9 L163.4 568.9 L164.7 568.3 L166 566.4 L167.3 567.5 L168.6 569 L169.9 568 L171.2 568.8 L172.5 569.5 L173.8 568 L175.1 568.3 L176.4 567.5 L177.7 567.5 L179 567.4 L180.2 568.8 L181.5 568.6 L182.8 568.7 L184.1 568.1 L185.4 566 L186.7 568.2 L188 568.7 L189.3 567.1 L190.6 568.6 L191.9 567.9 L193.2 568.4 L194.5 568.8 L195.8 567.4 L197.1 568.6 L198.4 566.7 L199.7 567.7 L201 569.4 L202.3 569.1" fill="none" stroke="#800808" stroke-width="1.5" stroke-linejoin="round"/>
<path d="M16.8 598.7 L18.1 599.8 L19.4 597.6 L20.7 597.8 L22 599.9 L23.3 601.2 L24.6 598.6 L25.9 598.9 L27.2 597.7 L28.5 599 L29.8 599.2 L31.1 597.7 L32.4 602.2 L33.7 599.7 L35 601.9 L36.3 600 L37.6 600 L38.9 603.2 L40.1 599.8 L41.4 600.4 L42.7 600.6 L44 600.4 L45.3 599.9 L46.6 597.8 L47.9 601 L49.2 597.1 L50.5 597.5 L51.8 598.8 L53.1 595.1 L54.4 595.2 L55.7 595.6 L57 594.7 L58.3 594.2 L59.6 592.9 L60.9 591 L62.2 591.4 L63.5 590.9 L64.8 588.6 L66.1 584.1 L67.4 582.1 L68.7 580.1 L70 577.4 L71.3 577.3 L72.6 574.7 L73.9 573.3 L75.2 568.5 L76.5 568 L77.8 565.4 L79.1 563.7 L80.4 558.5 L81.7 554.3 L83 552 L84.3 551.2 L85.6 548.8 L86.8 545.4 L88.1 540.8 L89.4 533.7 L90.7 537.3 L92 533.7 L93.3 529.5 L94.6 528.1 L95.9 525.6 L97.2 521.2 L98.5 521.8 L99.8 522.3 L101.1 521.6 L102.4 524.1 L103.7 529.9 L105 525.6 L106.3 529.2 L107.6 535.1 L108.9 535.7 L110.2 538.5 L111.5 544.4 L112.8 548.5 L114.1 552.9 L115.4 556.5 L116.7 559.5 L118 566.2 L119.3 567.6 L120.6 569.5 L121.9 574.2 L123.2 579.8 L124.5 580.3 L125.8 583.8 L127.1 589.3 L128.4 590.8 L129.7 594.3 L131 593.1 L132.3 593.3 L133.5 594.6 L134.8 598.8 L136.1 599.4 L137.4 597.7 L138.7 596 L140 595.2 L141.3 594.9 L142.6 592.6 L143.9 595.3 L145.2 594.8 L146.5 596.9 L147.8 594.4 L149.1 596 L150.4 595.7 L151.7 593.5 L153 597 L154.3 592.6 L155.6 596.6 L156.9 595.2 L158.2 595.9 L159.5 595.7 L160.8 595.4 L162.1 596 L163.4 598.4 L164.7 595.4 L166 595.2 L167.3 597.4 L168.6 596 L169.9 596.5 L171.2 595.9 L172.5 594.3 L173.8 596 L175.1 593.7 L176.4 596.4 L177.7 595 L179 597.2 L180.2 596.5 L181.5 597.3 L182.8 596 L184.1 592.7 L185.4 596.8 L186.7 598.3 L188 595.2 L189.3 592.4 L190.6 593.1 L191.9 595.3 L193.2 598.1 L194.5 596.5 L195.8 596.4 L197.1 595.3 L198.4 596.1 L199.7 599 L201 593.4 L202.3 594.2" fill="none" stroke="#600606" stroke-width="1.5" stroke-linejoin="round"/>
<path d="M16.8 622.7 L18.1 625.8 L19.4 626 L20.7 627.9 L22 625.8 L23.3 628 L24.6 623.2 L25.9 627.2 L27.2 625.5 L28.5 625 L29.8 626.2 L31.1 625.5 L32.4 626.4 L33.7 625.5 L35 627.7 L36.3 624.5 L37.6 624.4 L38.9 625.3 L40.1 629 L41.4 627.1 L42.7 628.1 L44 627.1 L45.3 626.7 L46.6 628.6 L47.9 622.5 L49.2 621.9 L50.5 623.2 L51.8 621.1 L53.1 621.3 L54.4 623.6 L55.7 622.4 L57 625.4 L58.3 623 L59.6 619.4 L60.9 619.1 L62.2 615.8 L63.5 614 L64.8 609 L66.1 610.5 L67.4 611.1 L68.7 605.6 L70 603.9 L71.3 600.2 L72.6 598.4 L73.9 596.5 L75.2 592.2 L76.5 585.1 L77.8 582.9 L79.1 582.2 L80.4 580.4 L81.7 576.6 L83 573.4 L84.3 573.6 L85.6 567.1 L86.8 564.6 L88.1 560.7 L89.4 556.1 L90.7 554.1 L92 553.3 L93.3 551.9 L94.6 550.5 L95.9 549.7 L97.2 550.1 L98.5 550.8 L99.8 553.3 L101.1 556.1 L102.4 559.2 L103.7 562.9 L105 567.4 L106.3 572.1 L107.6 572.9 L108.9 576 L110.2 583.1 L111.5 587.3 L112.8 596.7 L114.1 600.9 L115.4 601.9 L116.7 610 L118 610.1 L119.3 616.9 L120.6 616.5 L121.9 619.6 L123.2 616.6 L124.5 619.1 L125.8 620.2 L127.1 619.7 L128.4 623.7 L129.7 621.9 L131 626.6 L132.3 623.2 L133.5 624.2 L134.8 625.4 L136.1 628.1 L137.4 623 L138.7 622.6 L140 625.3 L141.3 622.7 L142.6 627.4 L143.9 623.2 L145.2 625.5 L146.5 622.2 L147.8 625.7 L149.1 624.3 L150.4 624.2 L151.7 624.7 L153 627.1 L154.3 627 L155.6 626.8 L156.9 624.4 L158.2 625.3 L159.5 621.4 L160.8 627.7 L162.1 623.7 L163.4 624 L164.7 622 L166 624.3 L167.3 626.3 L168.6 624.7 L169.9 622.7 L171.2 623.9 L172.5 619.9 L173.8 625.3 L175.1 622.2 L176.4 622.2 L177.7 622.3 L179 622.2 L180.2 620 L181.5 623.9 L182.8 624 L184.1 622.2 L185.4 623.6 L186.7 622.9 L188 619.6 L189.3 619.3 L190.6 622.2 L191.9 621.1 L193.2 622.8 L194.5 621.3 L195.8 620 L197.1 623.8 L198.4 621.3 L199.7 624 L201 621.9 L202.3 619.6" fill="none" stroke="#3c0404" stroke-width="1.5" stroke-linejoin="round"/>
<path d="M16.8 650.1 L18.1 649.8 L19.4 650.3 L20.7 648.4 L22 650.9 L23.3 651.6 L24.6 648.5 L25.9 653 L27.2 651.9 L28.5 653 L29.8 652.4 L31.1 653 L32.4 651 L33.7 646.3 L35 653 L36.3 648.9 L37.6 651.6 L38.9 650.5 L40.1 650 L41.4 652.7 L42.7 651 L44 653 L45.3 645.9 L46.6 650.6 L47.9 649.8 L49.2 653 L50.5 651.3 L51.8 650.1 L53.1 651.2 L54.4 650.5 L55.7 651.3 L57 646 L58.3 648.7 L59.6 649.1 L60.9 649.9 L62.2 647.1 L63.5 648.3 L64.8 637.5 L66.1 637.9 L67.4 633.2 L68.7 628.9 L70 624.8 L71.3 619.1 L72.6 610.9 L73.9 607 L75.2 604.8 L76.5 602.9 L77.8 599.7 L79.1 596.7 L80.4 596.5 L81.7 592.3 L83 591.4 L84.3 589.9 L85.6 585.7 L86.8 581.9 L88.1 578.7 L89.4 580.5 L90.7 585.9 L92 589.8 L93.3 588.3 L94.6 585.8 L95.9 585.4 L97.2 591.7 L98.5 597.7 L99.8 606.6 L101.1 612 L102.4 615.4 L103.7 617 L105 617.9 L106.3 622.3 L107.6 631.3 L108.9 638.9 L110.2 640.6 L111.5 644.9 L112.8 646.1 L114.1 646.3 L115.4 647.5 L116.7 651.6 L118 651.2 L119.3 653 L120.6 650.2 L121.9 646.8 L123.2 650.1 L124.5 651.9 L125.8 650.8 L127.1 647.1 L128.4 653 L129.7 646.9 L131 650 L132.3 647.4 L133.5 653 L134.8 652.5 L136.1 649.1 L137.4 648.3 L138.7 649.3 L140 653 L141.3 652.2 L142.6 648.7 L143.9 651.2 L145.2 653 L146.5 647.8 L147.8 648.6 L149.1 651 L150.4 649.6 L151.7 651.7 L153 653 L154.3 649.5 L155.6 653 L156.9 645.1 L158.2 649 L159.5 647 L160.8 648.5 L162.1 648 L163.4 649.3 L164.7 649.4 L166 653 L167.3 652.3 L168.6 649.6 L169.9 651.2 L171.2 650.3 L172.5 653 L173.8 649.3 L175.1 648.3 L176.4 646.6 L177.7 649.2 L179 651.7 L180.2 647.9 L181.5 645.2 L182.8 649.7 L184.1 645.4 L185.4 650.2 L186.7 649.3 L188 646.4 L189.3 647.9 L190.6 650.3 L191.9 649.2 L193.2 647 L194.5 649.3 L195.8 647.7 L197.1 649.8 L198.4 649.1 L199.7 650.2 L201 652.6 L202.3 642.4" fill="none" stroke="#000000" stroke-width="1.5" stroke-linejoin="round"/>
<text x="200.5" y="436.9" font-size="9.8" text-anchor="end" fill="#f01818">879<tspan dx="2.2">Wcm</tspan><tspan font-size="7" dy="-4.0">−2</tspan></text>
<text x="200.5" y="473.2" font-size="9.8" text-anchor="end" fill="#e01414">382<tspan dx="2.2">Wcm</tspan><tspan font-size="7" dy="-4.0">−2</tspan></text>
<text x="200.5" y="505.8" font-size="9.8" text-anchor="end" fill="#c81010">191<tspan dx="2.2">Wcm</tspan><tspan font-size="7" dy="-4.0">−2</tspan></text>
<text x="200.5" y="533.4" font-size="9.8" text-anchor="end" fill="#a40c0c">89<tspan dx="2.2">Wcm</tspan><tspan font-size="7" dy="-4.0">−2</tspan></text>
<text x="200.5" y="559.8" font-size="9.8" text-anchor="end" fill="#800808">51<tspan dx="2.2">Wcm</tspan><tspan font-size="7" dy="-4.0">−2</tspan></text>
<text x="200.5" y="586.1" font-size="9.8" text-anchor="end" fill="#600606">25<tspan dx="2.2">Wcm</tspan><tspan font-size="7" dy="-4.0">−2</tspan></text>
<text x="200.5" y="613" font-size="9.8" text-anchor="end" fill="#3c0404">13<tspan dx="2.2">Wcm</tspan><tspan font-size="7" dy="-4.0">−2</tspan></text>
<text x="200.5" y="640.5" font-size="9.8" text-anchor="end" fill="#000000">3<tspan dx="2.2">Wcm</tspan><tspan font-size="7" dy="-4.0">−2</tspan></text>
<text x="18.8" y="406.2" font-size="35" text-anchor="start" fill="#000">d</text>
<rect x="239.2" y="373.2" width="185.2" height="280.3" fill="none" stroke="#222" stroke-width="0.9"/>
<line x1="239.2" y1="653.5" x2="239.2" y2="650.5" stroke="#222" stroke-width="0.8"/>
<text x="239.2" y="664.5" font-size="9.2" text-anchor="middle" fill="#000">0.25</text>
<line x1="270.1" y1="653.5" x2="270.1" y2="650.5" stroke="#222" stroke-width="0.8"/>
<text x="270.1" y="664.5" font-size="9.2" text-anchor="middle" fill="#000">0.30</text>
<line x1="301" y1="653.5" x2="301" y2="650.5" stroke="#222" stroke-width="0.8"/>
<text x="301" y="664.5" font-size="9.2" text-anchor="middle" fill="#000">0.35</text>
<line x1="331.9" y1="653.5" x2="331.9" y2="650.5" stroke="#222" stroke-width="0.8"/>
<text x="331.9" y="664.5" font-size="9.2" text-anchor="middle" fill="#000">0.40</text>
<line x1="362.8" y1="653.5" x2="362.8" y2="650.5" stroke="#222" stroke-width="0.8"/>
<text x="362.8" y="664.5" font-size="9.2" text-anchor="middle" fill="#000">0.45</text>
<line x1="393.7" y1="653.5" x2="393.7" y2="650.5" stroke="#222" stroke-width="0.8"/>
<text x="393.7" y="664.5" font-size="9.2" text-anchor="middle" fill="#000">0.50</text>
<line x1="424.6" y1="653.5" x2="424.6" y2="650.5" stroke="#222" stroke-width="0.8"/>
<text x="424.6" y="664.5" font-size="9.2" text-anchor="middle" fill="#000">0.55</text>
<line x1="245.4" y1="653.5" x2="245.4" y2="651.8" stroke="#222" stroke-width="0.6"/>
<line x1="251.6" y1="653.5" x2="251.6" y2="651.8" stroke="#222" stroke-width="0.6"/>
<line x1="257.7" y1="653.5" x2="257.7" y2="651.8" stroke="#222" stroke-width="0.6"/>
<line x1="263.9" y1="653.5" x2="263.9" y2="651.8" stroke="#222" stroke-width="0.6"/>
<line x1="270.1" y1="653.5" x2="270.1" y2="651.8" stroke="#222" stroke-width="0.6"/>
<line x1="276.3" y1="653.5" x2="276.3" y2="651.8" stroke="#222" stroke-width="0.6"/>
<line x1="282.5" y1="653.5" x2="282.5" y2="651.8" stroke="#222" stroke-width="0.6"/>
<line x1="288.6" y1="653.5" x2="288.6" y2="651.8" stroke="#222" stroke-width="0.6"/>
<line x1="294.8" y1="653.5" x2="294.8" y2="651.8" stroke="#222" stroke-width="0.6"/>
<line x1="301" y1="653.5" x2="301" y2="651.8" stroke="#222" stroke-width="0.6"/>
<line x1="307.2" y1="653.5" x2="307.2" y2="651.8" stroke="#222" stroke-width="0.6"/>
<line x1="313.4" y1="653.5" x2="313.4" y2="651.8" stroke="#222" stroke-width="0.6"/>
<line x1="319.5" y1="653.5" x2="319.5" y2="651.8" stroke="#222" stroke-width="0.6"/>
<line x1="325.7" y1="653.5" x2="325.7" y2="651.8" stroke="#222" stroke-width="0.6"/>
<line x1="331.9" y1="653.5" x2="331.9" y2="651.8" stroke="#222" stroke-width="0.6"/>
<line x1="338.1" y1="653.5" x2="338.1" y2="651.8" stroke="#222" stroke-width="0.6"/>
<line x1="344.3" y1="653.5" x2="344.3" y2="651.8" stroke="#222" stroke-width="0.6"/>
<line x1="350.4" y1="653.5" x2="350.4" y2="651.8" stroke="#222" stroke-width="0.6"/>
<line x1="356.6" y1="653.5" x2="356.6" y2="651.8" stroke="#222" stroke-width="0.6"/>
<line x1="362.8" y1="653.5" x2="362.8" y2="651.8" stroke="#222" stroke-width="0.6"/>
<line x1="369" y1="653.5" x2="369" y2="651.8" stroke="#222" stroke-width="0.6"/>
<line x1="375.2" y1="653.5" x2="375.2" y2="651.8" stroke="#222" stroke-width="0.6"/>
<line x1="381.3" y1="653.5" x2="381.3" y2="651.8" stroke="#222" stroke-width="0.6"/>
<line x1="387.5" y1="653.5" x2="387.5" y2="651.8" stroke="#222" stroke-width="0.6"/>
<line x1="393.7" y1="653.5" x2="393.7" y2="651.8" stroke="#222" stroke-width="0.6"/>
<line x1="399.9" y1="653.5" x2="399.9" y2="651.8" stroke="#222" stroke-width="0.6"/>
<line x1="406.1" y1="653.5" x2="406.1" y2="651.8" stroke="#222" stroke-width="0.6"/>
<line x1="412.2" y1="653.5" x2="412.2" y2="651.8" stroke="#222" stroke-width="0.6"/>
<line x1="418.4" y1="653.5" x2="418.4" y2="651.8" stroke="#222" stroke-width="0.6"/>
<line x1="255" y1="373.2" x2="255" y2="376.2" stroke="#222" stroke-width="0.8"/>
<text x="255" y="368.2" font-size="9.2" text-anchor="middle" fill="#000">4500</text>
<line x1="276.3" y1="373.2" x2="276.3" y2="376.2" stroke="#222" stroke-width="0.8"/>
<text x="276.3" y="368.2" font-size="9.2" text-anchor="middle" fill="#000">4000</text>
<line x1="303.6" y1="373.2" x2="303.6" y2="376.2" stroke="#222" stroke-width="0.8"/>
<text x="303.6" y="368.2" font-size="9.2" text-anchor="middle" fill="#000">3500</text>
<line x1="340.1" y1="373.2" x2="340.1" y2="376.2" stroke="#222" stroke-width="0.8"/>
<text x="340.1" y="368.2" font-size="9.2" text-anchor="middle" fill="#000">3000</text>
<line x1="391.2" y1="373.2" x2="391.2" y2="376.2" stroke="#222" stroke-width="0.8"/>
<text x="391.2" y="368.2" font-size="9.2" text-anchor="middle" fill="#000">2500</text>
<line x1="417.8" y1="373.2" x2="417.8" y2="374.9" stroke="#222" stroke-width="0.6"/>
<line x1="404" y1="373.2" x2="404" y2="374.9" stroke="#222" stroke-width="0.6"/>
<line x1="379.4" y1="373.2" x2="379.4" y2="374.9" stroke="#222" stroke-width="0.6"/>
<line x1="368.5" y1="373.2" x2="368.5" y2="374.9" stroke="#222" stroke-width="0.6"/>
<line x1="358.4" y1="373.2" x2="358.4" y2="374.9" stroke="#222" stroke-width="0.6"/>
<line x1="348.9" y1="373.2" x2="348.9" y2="374.9" stroke="#222" stroke-width="0.6"/>
<line x1="331.9" y1="373.2" x2="331.9" y2="374.9" stroke="#222" stroke-width="0.6"/>
<line x1="324.1" y1="373.2" x2="324.1" y2="374.9" stroke="#222" stroke-width="0.6"/>
<line x1="316.9" y1="373.2" x2="316.9" y2="374.9" stroke="#222" stroke-width="0.6"/>
<line x1="310.1" y1="373.2" x2="310.1" y2="374.9" stroke="#222" stroke-width="0.6"/>
<line x1="297.5" y1="373.2" x2="297.5" y2="374.9" stroke="#222" stroke-width="0.6"/>
<line x1="291.8" y1="373.2" x2="291.8" y2="374.9" stroke="#222" stroke-width="0.6"/>
<line x1="286.3" y1="373.2" x2="286.3" y2="374.9" stroke="#222" stroke-width="0.6"/>
<line x1="281.2" y1="373.2" x2="281.2" y2="374.9" stroke="#222" stroke-width="0.6"/>
<line x1="271.6" y1="373.2" x2="271.6" y2="374.9" stroke="#222" stroke-width="0.6"/>
<line x1="267.1" y1="373.2" x2="267.1" y2="374.9" stroke="#222" stroke-width="0.6"/>
<line x1="262.9" y1="373.2" x2="262.9" y2="374.9" stroke="#222" stroke-width="0.6"/>
<line x1="258.8" y1="373.2" x2="258.8" y2="374.9" stroke="#222" stroke-width="0.6"/>
<line x1="251.3" y1="373.2" x2="251.3" y2="374.9" stroke="#222" stroke-width="0.6"/>
<line x1="247.7" y1="373.2" x2="247.7" y2="374.9" stroke="#222" stroke-width="0.6"/>
<line x1="244.3" y1="373.2" x2="244.3" y2="374.9" stroke="#222" stroke-width="0.6"/>
<line x1="241.1" y1="373.2" x2="241.1" y2="374.9" stroke="#222" stroke-width="0.6"/>
<text x="331.8" y="358.5" font-size="12.4" text-anchor="middle" fill="#000">Wavelength (nm)</text>
<text x="331.8" y="679.1" font-size="12.4" text-anchor="middle" fill="#000">Energy (eV)</text>
<text x="233" y="513.6" font-size="12.4" text-anchor="middle" fill="#000" transform="rotate(-90 233 513.6)">Normalized PL intensity (arb.u.)</text>
<path d="M239.2 437.3 L240.7 437.7 L242.2 437.6 L243.7 437 L245.2 437.6 L246.7 437.1 L248.2 438.2 L249.7 437.3 L251.2 436.8 L252.8 437.4 L254.3 437.6 L255.8 437.9 L257.3 438.4 L258.8 437.2 L260.3 437.9 L261.8 437.2 L263.3 438 L264.8 437.9 L266.3 437.8 L267.8 437.8 L269.3 437.7 L270.8 438 L272.3 437.7 L273.8 436.9 L275.3 436.6 L276.8 436 L278.3 435.7 L279.9 434.6 L281.4 434.7 L282.9 433.3 L284.4 434 L285.9 431.7 L287.4 431.7 L288.9 430.6 L290.4 429.9 L291.9 428 L293.4 424.6 L294.9 423.4 L296.4 421 L297.9 419 L299.4 417 L300.9 415.6 L302.4 413.3 L303.9 409.9 L305.5 407.8 L307 405.7 L308.5 403.2 L310 400.5 L311.5 398.6 L313 397.7 L314.5 396.8 L316 395.4 L317.5 395.7 L319 395.8 L320.5 395.4 L322 395.5 L323.5 396.4 L325 396.9 L326.5 396.4 L328 396.8 L329.5 398 L331 397.7 L332.6 396.6 L334.1 395.8 L335.6 394.8 L337.1 392.7 L338.6 391.6 L340.1 390.4 L341.6 388.6 L343.1 388.3 L344.6 387.2 L346.1 386.4 L347.6 386.9 L349.1 388 L350.6 387.7 L352.1 388.6 L353.6 389.4 L355.1 391.6 L356.6 393.8 L358.1 395.2 L359.7 398.3 L361.2 401.5 L362.7 403.8 L364.2 406.4 L365.7 410.1 L367.2 412.1 L368.7 415 L370.2 416.8 L371.7 418.7 L373.2 420.4 L374.7 421.7 L376.2 423.6 L377.7 424.7 L379.2 426.7 L380.7 427.7 L382.2 428.8 L383.7 430.2 L385.3 430.3 L386.8 430.9 L388.3 431.7 L389.8 432.6 L391.3 432.4 L392.8 433.7 L394.3 433.7 L395.8 434.7 L397.3 434.3 L398.8 433.3 L400.3 433.8 L401.8 433.5 L403.3 433.4 L404.8 433.4 L406.3 433.5 L407.8 433.7 L409.3 433.9 L410.8 433.3 L412.4 433.1 L413.9 432.7 L415.4 433.1 L416.9 433.1 L418.4 433.3 L419.9 433.2 L421.4 433.5 L422.9 433.7 L424.4 432.4" fill="none" stroke="#ec1c1c" stroke-width="1.5" stroke-linejoin="round"/>
<path d="M239.2 463.4 L240.7 463.8 L242.2 464.1 L243.7 463.1 L245.2 463.8 L246.7 463.3 L248.2 463.9 L249.7 463.6 L251.2 463.8 L252.8 463 L254.3 464 L255.8 464.4 L257.3 463.5 L258.8 463.4 L260.3 463.5 L261.8 462.9 L263.3 463.4 L264.8 463.4 L266.3 462.8 L267.8 462.4 L269.3 463.5 L270.8 463 L272.3 462.9 L273.8 462.6 L275.3 462.3 L276.8 462.2 L278.3 461.7 L279.9 461.5 L281.4 460.8 L282.9 460.7 L284.4 459.8 L285.9 459.8 L287.4 458.5 L288.9 456.5 L290.4 455.1 L291.9 452.5 L293.4 450.8 L294.9 448.2 L296.4 446.3 L297.9 444.3 L299.4 441 L300.9 438.8 L302.4 436.9 L303.9 433.6 L305.5 431.7 L307 430.3 L308.5 427.9 L310 425.8 L311.5 425.3 L313 423.9 L314.5 423.7 L316 422.6 L317.5 422.4 L319 422 L320.5 421.3 L322 422 L323.5 422.7 L325 423.1 L326.5 422.8 L328 423.3 L329.5 423.3 L331 423 L332.6 422.5 L334.1 422.2 L335.6 420.8 L337.1 418.8 L338.6 417.7 L340.1 416 L341.6 415.2 L343.1 414.5 L344.6 413.6 L346.1 412.5 L347.6 412.7 L349.1 412.7 L350.6 413.7 L352.1 414.1 L353.6 415.7 L355.1 417 L356.6 419.1 L358.1 420.9 L359.7 424 L361.2 427.3 L362.7 429.8 L364.2 431.7 L365.7 435.2 L367.2 437.5 L368.7 440.7 L370.2 442.5 L371.7 443.7 L373.2 445.1 L374.7 447.1 L376.2 446.9 L377.7 449.6 L379.2 450.4 L380.7 452 L382.2 453 L383.7 454.5 L385.3 455.5 L386.8 457.4 L388.3 457.5 L389.8 457.2 L391.3 458.3 L392.8 458.3 L394.3 459.3 L395.8 459.3 L397.3 459.1 L398.8 459.5 L400.3 459.5 L401.8 459.6 L403.3 459.3 L404.8 459.2 L406.3 459.3 L407.8 459.6 L409.3 459.2 L410.8 459 L412.4 459.9 L413.9 459.2 L415.4 459.1 L416.9 459.7 L418.4 460.1 L419.9 459.3 L421.4 459.3 L422.9 459.1 L424.4 459.6" fill="none" stroke="#d01818" stroke-width="1.5" stroke-linejoin="round"/>
<path d="M239.2 489.4 L240.7 489.1 L242.2 488.9 L243.7 488.8 L245.2 488.7 L246.7 489 L248.2 488.6 L249.7 489.5 L251.2 489.2 L252.8 488.8 L254.3 489.1 L255.8 488.3 L257.3 488.2 L258.8 488.9 L260.3 488.8 L261.8 488 L263.3 487.8 L264.8 488.6 L266.3 488.5 L267.8 487.9 L269.3 488.5 L270.8 488.4 L272.3 487.9 L273.8 488.2 L275.3 487.8 L276.8 487.3 L278.3 487.1 L279.9 486.3 L281.4 486.4 L282.9 486.7 L284.4 485.1 L285.9 484.7 L287.4 483 L288.9 481.7 L290.4 481.1 L291.9 478.9 L293.4 476.3 L294.9 474.1 L296.4 471.9 L297.9 469 L299.4 466.3 L300.9 464.2 L302.4 461.9 L303.9 459.3 L305.5 457.1 L307 455 L308.5 453.4 L310 453 L311.5 451.7 L313 449.3 L314.5 450 L316 449.9 L317.5 449.9 L319 449.6 L320.5 449.5 L322 448.4 L323.5 448.7 L325 448.7 L326.5 449.4 L328 449.7 L329.5 450.2 L331 450 L332.6 449.6 L334.1 448.5 L335.6 446 L337.1 445 L338.6 442.8 L340.1 442 L341.6 439.9 L343.1 439.4 L344.6 438.7 L346.1 439.1 L347.6 439.8 L349.1 439.3 L350.6 439.9 L352.1 441.5 L353.6 442.6 L355.1 444.1 L356.6 446.9 L358.1 450 L359.7 452.9 L361.2 455.2 L362.7 457.6 L364.2 461 L365.7 462.7 L367.2 464.6 L368.7 467.3 L370.2 469.5 L371.7 471.5 L373.2 472.4 L374.7 474.5 L376.2 475.2 L377.7 477 L379.2 478 L380.7 479.6 L382.2 480.9 L383.7 481.4 L385.3 481.8 L386.8 481.7 L388.3 483.3 L389.8 483.3 L391.3 483.8 L392.8 484.6 L394.3 484.9 L395.8 484.6 L397.3 485.1 L398.8 485 L400.3 485.2 L401.8 485.4 L403.3 485.8 L404.8 486.1 L406.3 485.5 L407.8 485.9 L409.3 486.3 L410.8 486.1 L412.4 485.6 L413.9 485.7 L415.4 486 L416.9 485.8 L418.4 486.5 L419.9 484.8 L421.4 486.7 L422.9 485.8 L424.4 485.7" fill="none" stroke="#b81414" stroke-width="1.5" stroke-linejoin="round"/>
<path d="M239.2 514.2 L240.7 514.7 L242.2 514.5 L243.7 513.1 L245.2 515.2 L246.7 514.2 L248.2 512.7 L249.7 514.6 L251.2 515.1 L252.8 513.6 L254.3 514.3 L255.8 513.2 L257.3 513.7 L258.8 514.9 L260.3 515.2 L261.8 514.2 L263.3 515.2 L264.8 513.4 L266.3 514.3 L267.8 514.2 L269.3 513.7 L270.8 512 L272.3 512.3 L273.8 512.4 L275.3 512.5 L276.8 511.6 L278.3 512.2 L279.9 510.6 L281.4 511.9 L282.9 510 L284.4 509.9 L285.9 507.8 L287.4 506.6 L288.9 504 L290.4 503.3 L291.9 502.4 L293.4 499.4 L294.9 499.1 L296.4 495.6 L297.9 493.2 L299.4 493.1 L300.9 491.3 L302.4 489.5 L303.9 487 L305.5 486.4 L307 483.9 L308.5 481.9 L310 481.2 L311.5 479.6 L313 479.8 L314.5 478.2 L316 478.1 L317.5 478.2 L319 477.6 L320.5 477.6 L322 476.8 L323.5 476.7 L325 475.1 L326.5 475 L328 474.1 L329.5 474.1 L331 473.2 L332.6 471.6 L334.1 472 L335.6 469.9 L337.1 468.4 L338.6 467.5 L340.1 467 L341.6 465.2 L343.1 464.7 L344.6 464.1 L346.1 464.4 L347.6 465.1 L349.1 465.8 L350.6 466.1 L352.1 466.7 L353.6 468.4 L355.1 470.7 L356.6 473.5 L358.1 475.8 L359.7 477.6 L361.2 481.8 L362.7 483.4 L364.2 487.5 L365.7 488.8 L367.2 492.6 L368.7 494.3 L370.2 497.4 L371.7 499.2 L373.2 501.7 L374.7 502.9 L376.2 504 L377.7 506.3 L379.2 507.8 L380.7 508.6 L382.2 509.2 L383.7 509.8 L385.3 511.5 L386.8 510.3 L388.3 510.3 L389.8 511.7 L391.3 511.2 L392.8 512.1 L394.3 511.5 L395.8 511.6 L397.3 512.9 L398.8 512.7 L400.3 512 L401.8 511.8 L403.3 512.9 L404.8 512 L406.3 513 L407.8 512.6 L409.3 512.1 L410.8 513.2 L412.4 512.4 L413.9 513.5 L415.4 512.5 L416.9 512.4 L418.4 513 L419.9 513 L421.4 513 L422.9 512.3 L424.4 512.6" fill="none" stroke="#9c1010" stroke-width="1.5" stroke-linejoin="round"/>
<path d="M239.2 540.9 L240.7 540.6 L242.2 540.5 L243.7 540.2 L245.2 539.7 L246.7 539.8 L248.2 539.9 L249.7 540.3 L251.2 540.8 L252.8 539.4 L254.3 539.3 L255.8 540.1 L257.3 540.4 L258.8 540.7 L260.3 539.9 L261.8 539.4 L263.3 540.2 L264.8 540.1 L266.3 539.8 L267.8 539.6 L269.3 538.8 L270.8 538.7 L272.3 537.5 L273.8 538.8 L275.3 537 L276.8 536.8 L278.3 536.8 L279.9 536.1 L281.4 536.5 L282.9 534.5 L284.4 532.8 L285.9 531.7 L287.4 531 L288.9 529.1 L290.4 528.2 L291.9 525.4 L293.4 524.8 L294.9 524.6 L296.4 521.6 L297.9 521.3 L299.4 518.9 L300.9 517.8 L302.4 516.3 L303.9 514.2 L305.5 512.7 L307 511.6 L308.5 509.1 L310 508.2 L311.5 507.5 L313 505.9 L314.5 504.5 L316 503.6 L317.5 502.9 L319 501.6 L320.5 498.9 L322 499.5 L323.5 499 L325 496.3 L326.5 497.6 L328 495.5 L329.5 494.1 L331 493.9 L332.6 493.1 L334.1 494.1 L335.6 490.8 L337.1 491.3 L338.6 490.6 L340.1 490.3 L341.6 488.2 L343.1 489.5 L344.6 490.3 L346.1 491.9 L347.6 491.2 L349.1 495 L350.6 496 L352.1 498.8 L353.6 500.4 L355.1 502.4 L356.6 505.1 L358.1 508.3 L359.7 511.1 L361.2 513.4 L362.7 516.6 L364.2 519.2 L365.7 521.3 L367.2 522.4 L368.7 526.4 L370.2 527.2 L371.7 529.5 L373.2 530.7 L374.7 531.4 L376.2 531.8 L377.7 533.2 L379.2 533.6 L380.7 533.4 L382.2 535.1 L383.7 535.2 L385.3 536.7 L386.8 534.9 L388.3 537.2 L389.8 537.9 L391.3 537.3 L392.8 537.3 L394.3 538.4 L395.8 538.9 L397.3 539 L398.8 538.3 L400.3 538.6 L401.8 538.7 L403.3 539.1 L404.8 540.1 L406.3 538.8 L407.8 540 L409.3 539.6 L410.8 539.3 L412.4 538.4 L413.9 539.6 L415.4 539.7 L416.9 539.8 L418.4 540 L419.9 540.4 L421.4 540.5 L422.9 539.8 L424.4 539.9" fill="none" stroke="#800c0c" stroke-width="1.5" stroke-linejoin="round"/>
<path d="M239.2 567.3 L240.7 565.9 L242.2 565.2 L243.7 564.1 L245.2 566.3 L246.7 564.8 L248.2 565.7 L249.7 565.6 L251.2 565.1 L252.8 566.6 L254.3 566.1 L255.8 566.5 L257.3 565.7 L258.8 565.7 L260.3 564.4 L261.8 565 L263.3 564.7 L264.8 565 L266.3 564.5 L267.8 562.7 L269.3 563.1 L270.8 564 L272.3 561.9 L273.8 562 L275.3 562.5 L276.8 561 L278.3 559.9 L279.9 558.5 L281.4 557.8 L282.9 558.5 L284.4 555.6 L285.9 554.3 L287.4 553 L288.9 552.3 L290.4 548.2 L291.9 546 L293.4 544.9 L294.9 542.5 L296.4 540 L297.9 538.6 L299.4 538.8 L300.9 536.3 L302.4 536.1 L303.9 533.7 L305.5 532 L307 532.7 L308.5 531.2 L310 530.2 L311.5 529.2 L313 528.3 L314.5 528 L316 526.9 L317.5 526.9 L319 524.9 L320.5 523.9 L322 523.5 L323.5 520.9 L325 521.8 L326.5 520.3 L328 519.1 L329.5 518.4 L331 517.8 L332.6 517.8 L334.1 515.7 L335.6 515.5 L337.1 516.5 L338.6 515.1 L340.1 516.4 L341.6 516.6 L343.1 517.7 L344.6 519.2 L346.1 521.1 L347.6 523.7 L349.1 527 L350.6 528.7 L352.1 532.3 L353.6 534 L355.1 535.2 L356.6 535.9 L358.1 539.4 L359.7 542.1 L361.2 544.4 L362.7 548.2 L364.2 548.3 L365.7 549.9 L367.2 553 L368.7 553.9 L370.2 554.8 L371.7 555.9 L373.2 557 L374.7 557.6 L376.2 560.1 L377.7 557.8 L379.2 561 L380.7 561.3 L382.2 562 L383.7 561.2 L385.3 562.6 L386.8 562.2 L388.3 562.9 L389.8 563.9 L391.3 563.4 L392.8 564.4 L394.3 563.6 L395.8 563.5 L397.3 562.6 L398.8 567.7 L400.3 565.7 L401.8 565.2 L403.3 565.1 L404.8 565.7 L406.3 563.6 L407.8 565.9 L409.3 564.4 L410.8 565 L412.4 564.7 L413.9 564.2 L415.4 563.3 L416.9 566.3 L418.4 564.8 L419.9 565.4 L421.4 564.7 L422.9 563.7 L424.4 564.3" fill="none" stroke="#640808" stroke-width="1.5" stroke-linejoin="round"/>
<path d="M239.2 589.4 L240.8 591 L242.4 589.8 L244 591.1 L245.6 590.9 L247.2 590.9 L248.8 592.3 L250.4 592.4 L252 590.6 L253.6 591.3 L255.2 592.3 L256.8 590.5 L258.4 589.8 L260 590.4 L261.6 591.3 L263.1 588.8 L264.7 589.6 L266.3 588.1 L267.9 588.5 L269.5 586.4 L271.1 583.6 L272.7 585.7 L274.3 585.4 L275.9 583.5 L277.5 583.7 L279.1 581.5 L280.7 580 L282.3 576 L283.9 574.8 L285.5 571.5 L287.1 570 L288.7 569.1 L290.3 565.9 L291.9 564.2 L293.5 563 L295.1 559.4 L296.7 559.2 L298.3 554.4 L299.9 554.5 L301.5 551.3 L303.1 550.5 L304.7 551.2 L306.3 549.3 L307.9 549.5 L309.4 548.6 L311 547.9 L312.6 546.3 L314.2 544.7 L315.8 543.1 L317.4 542.2 L319 541.9 L320.6 541.8 L322.2 540.1 L323.8 540.8 L325.4 543.3 L327 542.4 L328.6 541.8 L330.2 539.7 L331.8 543.2 L333.4 543 L335 540.2 L336.6 540.9 L338.2 543.8 L339.8 543.5 L341.4 546.9 L343 547.4 L344.6 552.3 L346.2 555 L347.8 558.6 L349.4 560.4 L351 560.8 L352.6 566.8 L354.2 568.6 L355.7 571.4 L357.3 575.2 L358.9 575 L360.5 578.4 L362.1 579.3 L363.7 579.2 L365.3 582.4 L366.9 583.7 L368.5 583.8 L370.1 583.7 L371.7 586.1 L373.3 584.9 L374.9 584.2 L376.5 586.9 L378.1 586.5 L379.7 586.9 L381.3 586.5 L382.9 589.4 L384.5 587.6 L386.1 587.8 L387.7 587.6 L389.3 590 L390.9 588.1 L392.5 589.5 L394.1 587.2 L395.7 589.6 L397.3 587.3 L398.9 591.8 L400.5 588 L402 590.8 L403.6 589.9 L405.2 591.1 L406.8 590.6 L408.4 588.5 L410 588.4 L411.6 589.5 L413.2 590.1 L414.8 591.1 L416.4 588.8 L418 590 L419.6 589.3 L421.2 589.8 L422.8 591.7 L424.4 591.8" fill="none" stroke="#480606" stroke-width="1.5" stroke-linejoin="round"/>
<path d="M239.2 615.7 L240.8 615.2 L242.4 617.5 L244 613.1 L245.6 613 L247.2 619 L248.8 614.3 L250.4 612.6 L252 618.3 L253.6 616.5 L255.2 616.1 L256.8 608.5 L258.4 616 L260 610.9 L261.6 609.9 L263.1 610.9 L264.7 609.6 L266.3 610.3 L267.9 607 L269.5 607.4 L271.1 604.6 L272.7 600.3 L274.3 604.4 L275.9 598 L277.5 600.1 L279.1 599.5 L280.7 592.8 L282.3 597.5 L283.9 594.2 L285.5 590.6 L287.1 586.8 L288.7 581.6 L290.3 579.7 L291.9 580.3 L293.5 578.7 L295.1 578.7 L296.7 572.3 L298.3 570.1 L299.9 575.8 L301.5 573.2 L303.1 570.8 L304.7 568.8 L306.3 571.7 L307.9 570.3 L309.4 565 L311 573.3 L312.6 566.3 L314.2 567.1 L315.8 567.8 L317.4 571.6 L319 567.9 L320.6 571.9 L322.2 573.8 L323.8 570.5 L325.4 570.8 L327 573.1 L328.6 571 L330.2 573.6 L331.8 575.5 L333.4 572.3 L335 572.6 L336.6 571.6 L338.2 580.2 L339.8 582.1 L341.4 582.8 L343 583.2 L344.6 586.9 L346.2 588.7 L347.8 588.7 L349.4 587.4 L351 590.4 L352.6 595 L354.2 601.9 L355.7 602.4 L357.3 602.9 L358.9 604.1 L360.5 608 L362.1 607.9 L363.7 607.9 L365.3 605.9 L366.9 606.8 L368.5 607.6 L370.1 616.5 L371.7 611.4 L373.3 610.5 L374.9 612.7 L376.5 612.5 L378.1 615 L379.7 606.3 L381.3 616.9 L382.9 611 L384.5 612.1 L386.1 613.4 L387.7 617 L389.3 613.2 L390.9 621.2 L392.5 608.3 L394.1 612.7 L395.7 615.7 L397.3 617.6 L398.9 613.7 L400.5 609.9 L402 617.2 L403.6 611.6 L405.2 612.4 L406.8 613.2 L408.4 618.6 L410 616.1 L411.6 614.5 L413.2 611.2 L414.8 608.9 L416.4 617.4 L418 611.1 L419.6 617.1 L421.2 613.7 L422.8 610 L424.4 610.6" fill="none" stroke="#2a0303" stroke-width="1.5" stroke-linejoin="round"/>
<path d="M239.2 644.4 L240.8 637.5 L242.4 647.2 L244 642.5 L245.6 639.1 L247.2 642.2 L248.8 645 L250.4 647.5 L252 646.1 L253.6 639 L255.2 636.6 L256.8 637.9 L258.4 640.8 L260 634 L261.6 632.3 L263.1 622.2 L264.7 633.7 L266.3 629.1 L267.9 629.5 L269.5 629.3 L271.1 629.2 L272.7 625.6 L274.3 619.4 L275.9 619.4 L277.5 615.3 L279.1 620.7 L280.7 618.8 L282.3 615.9 L283.9 623.4 L285.5 613.5 L287.1 610 L288.7 607.4 L290.3 610.2 L291.9 597.8 L293.5 604.2 L295.1 622.4 L296.7 606.6 L298.3 607.7 L299.9 603.3 L301.5 604.4 L303.1 608.1 L304.7 605.9 L306.3 610.2 L307.9 612 L309.4 621.9 L311 617.6 L312.6 614.4 L314.2 612 L315.8 617.1 L317.4 616.2 L319 614.2 L320.6 619.2 L322.2 620 L323.8 615.3 L325.4 622.7 L327 618 L328.6 616 L330.2 609.7 L331.8 611.2 L333.4 612.6 L335 628.5 L336.6 609.9 L338.2 608.4 L339.8 611.4 L341.4 612.6 L343 614.2 L344.6 622.8 L346.2 624.3 L347.8 629.8 L349.4 628.4 L351 644.1 L352.6 631.1 L354.2 634.3 L355.7 627.3 L357.3 632.3 L358.9 646 L360.5 641.1 L362.1 641.4 L363.7 643.9 L365.3 632.9 L366.9 643.8 L368.5 650.5 L370.1 639.8 L371.7 652.3 L373.3 652.4 L374.9 649.3 L376.5 647.4 L378.1 648 L379.7 642.8 L381.3 637.8 L382.9 639.1 L384.5 645.7 L386.1 651.4 L387.7 644.7 L389.3 651 L390.9 643.5 L392.5 637.7 L394.1 640.4 L395.7 632.3 L397.3 642.7 L398.9 636.7 L400.5 633.7 L402 644.4 L403.6 634.2 L405.2 639.6 L406.8 653 L408.4 636.3 L410 644.6 L411.6 649.5 L413.2 642 L414.8 648.7 L416.4 637.2 L418 647.3 L419.6 639.5 L421.2 645.5 L422.8 647.4 L424.4 648.7" fill="none" stroke="#000000" stroke-width="1.5" stroke-linejoin="round"/>
<text x="420.6" y="428.3" font-size="9.3" text-anchor="end" fill="#ec1c1c">2.4 K</text>
<text x="420.6" y="454" font-size="9.3" text-anchor="end" fill="#d01818">10 K</text>
<text x="420.6" y="479.2" font-size="9.3" text-anchor="end" fill="#b81414">20 K</text>
<text x="420.6" y="505.1" font-size="9.3" text-anchor="end" fill="#9c1010">50 K</text>
<text x="420.6" y="530.2" font-size="9.3" text-anchor="end" fill="#800c0c">100 K</text>
<text x="420.6" y="555.6" font-size="9.3" text-anchor="end" fill="#640808">150 K</text>
<text x="420.6" y="581.6" font-size="9.3" text-anchor="end" fill="#480606">200 K</text>
<text x="420.6" y="607.3" font-size="9.3" text-anchor="end" fill="#2a0303">250 K</text>
<text x="420.6" y="630.7" font-size="9.3" text-anchor="end" fill="#000000">300 K</text>
<text x="243.8" y="406.3" font-size="36" text-anchor="start" fill="#000">e</text>
<rect x="461.5" y="25.6" width="186" height="84" fill="none" stroke="#222" stroke-width="0.9"/>
<line x1="647.5" y1="25.6" x2="644.5" y2="25.6" stroke="#222" stroke-width="0.8"/>
<line x1="647.5" y1="34" x2="645.8" y2="34" stroke="#222" stroke-width="0.6"/>
<line x1="647.5" y1="42.4" x2="645.8" y2="42.4" stroke="#222" stroke-width="0.6"/>
<line x1="647.5" y1="50.8" x2="645.8" y2="50.8" stroke="#222" stroke-width="0.6"/>
<line x1="647.5" y1="59.2" x2="645.8" y2="59.2" stroke="#222" stroke-width="0.6"/>
<line x1="647.5" y1="67.6" x2="644.5" y2="67.6" stroke="#222" stroke-width="0.8"/>
<line x1="647.5" y1="76" x2="645.8" y2="76" stroke="#222" stroke-width="0.6"/>
<line x1="647.5" y1="84.4" x2="645.8" y2="84.4" stroke="#222" stroke-width="0.6"/>
<line x1="647.5" y1="92.8" x2="645.8" y2="92.8" stroke="#222" stroke-width="0.6"/>
<line x1="647.5" y1="101.2" x2="645.8" y2="101.2" stroke="#222" stroke-width="0.6"/>
<line x1="647.5" y1="109.6" x2="644.5" y2="109.6" stroke="#222" stroke-width="0.8"/>
<text x="650.6" y="28.7" font-size="9.2" text-anchor="start" fill="#000">0.50</text>
<text x="650.6" y="70.7" font-size="9.2" text-anchor="start" fill="#000">0.49</text>
<text x="650.6" y="112.7" font-size="9.2" text-anchor="start" fill="#000">0.48</text>
<line x1="469.9" y1="109.6" x2="469.9" y2="107.9" stroke="#222" stroke-width="0.6"/>
<line x1="478.4" y1="109.6" x2="478.4" y2="107.9" stroke="#222" stroke-width="0.6"/>
<line x1="485.1" y1="109.6" x2="485.1" y2="107.9" stroke="#222" stroke-width="0.6"/>
<line x1="490.5" y1="109.6" x2="490.5" y2="107.9" stroke="#222" stroke-width="0.6"/>
<line x1="495.1" y1="109.6" x2="495.1" y2="107.9" stroke="#222" stroke-width="0.6"/>
<line x1="499.1" y1="109.6" x2="499.1" y2="107.9" stroke="#222" stroke-width="0.6"/>
<line x1="502.6" y1="109.6" x2="502.6" y2="107.9" stroke="#222" stroke-width="0.6"/>
<line x1="505.7" y1="109.6" x2="505.7" y2="106.6" stroke="#222" stroke-width="0.8"/>
<line x1="526.3" y1="109.6" x2="526.3" y2="107.9" stroke="#222" stroke-width="0.6"/>
<line x1="538.4" y1="109.6" x2="538.4" y2="107.9" stroke="#222" stroke-width="0.6"/>
<line x1="546.9" y1="109.6" x2="546.9" y2="107.9" stroke="#222" stroke-width="0.6"/>
<line x1="553.6" y1="109.6" x2="553.6" y2="107.9" stroke="#222" stroke-width="0.6"/>
<line x1="559" y1="109.6" x2="559" y2="107.9" stroke="#222" stroke-width="0.6"/>
<line x1="563.6" y1="109.6" x2="563.6" y2="107.9" stroke="#222" stroke-width="0.6"/>
<line x1="567.6" y1="109.6" x2="567.6" y2="107.9" stroke="#222" stroke-width="0.6"/>
<line x1="571.1" y1="109.6" x2="571.1" y2="107.9" stroke="#222" stroke-width="0.6"/>
<line x1="574.2" y1="109.6" x2="574.2" y2="106.6" stroke="#222" stroke-width="0.8"/>
<line x1="594.8" y1="109.6" x2="594.8" y2="107.9" stroke="#222" stroke-width="0.6"/>
<line x1="606.9" y1="109.6" x2="606.9" y2="107.9" stroke="#222" stroke-width="0.6"/>
<line x1="615.4" y1="109.6" x2="615.4" y2="107.9" stroke="#222" stroke-width="0.6"/>
<line x1="622.1" y1="109.6" x2="622.1" y2="107.9" stroke="#222" stroke-width="0.6"/>
<line x1="627.5" y1="109.6" x2="627.5" y2="107.9" stroke="#222" stroke-width="0.6"/>
<line x1="632.1" y1="109.6" x2="632.1" y2="107.9" stroke="#222" stroke-width="0.6"/>
<line x1="636.1" y1="109.6" x2="636.1" y2="107.9" stroke="#222" stroke-width="0.6"/>
<line x1="639.6" y1="109.6" x2="639.6" y2="107.9" stroke="#222" stroke-width="0.6"/>
<line x1="642.7" y1="109.6" x2="642.7" y2="106.6" stroke="#222" stroke-width="0.8"/>
<circle cx="490.3" cy="76.2" r="2.9" fill="#2ed3d6"/>
<circle cx="513.5" cy="77.2" r="2.9" fill="#2ed3d6"/>
<circle cx="532.8" cy="72.4" r="2.9" fill="#2ed3d6"/>
<circle cx="545.2" cy="70.2" r="2.9" fill="#2ed3d6"/>
<circle cx="554.3" cy="64.5" r="2.9" fill="#2ed3d6"/>
<circle cx="560.7" cy="64.5" r="2.9" fill="#2ed3d6"/>
<circle cx="570.7" cy="67.3" r="2.9" fill="#2ed3d6"/>
<circle cx="581.2" cy="58.4" r="2.9" fill="#2ed3d6"/>
<circle cx="593.5" cy="61.4" r="2.9" fill="#2ed3d6"/>
<circle cx="602.1" cy="65.2" r="2.9" fill="#2ed3d6"/>
<circle cx="608.7" cy="65" r="2.9" fill="#2ed3d6"/>
<circle cx="614.2" cy="68.8" r="2.9" fill="#2ed3d6"/>
<circle cx="629.4" cy="84" r="2.9" fill="#2ed3d6"/>
<circle cx="638.9" cy="88.7" r="2.9" fill="#2ed3d6"/>
<text x="679.6" y="68" font-size="12.6" text-anchor="middle" fill="#000" transform="rotate(-90 679.6 68)">E<tspan font-size="7.2" dy="2.4">peak</tspan><tspan dy="-2.4">&#160;(eV)</tspan></text>
<text x="466.5" y="57.3" font-size="35" text-anchor="start" fill="#000">c</text>
<rect x="461.5" y="109.6" width="186" height="196.2" fill="none" stroke="#222" stroke-width="0.9"/>
<line x1="469.9" y1="305.8" x2="469.9" y2="304.1" stroke="#222" stroke-width="0.6"/>
<line x1="478.4" y1="305.8" x2="478.4" y2="304.1" stroke="#222" stroke-width="0.6"/>
<line x1="485.1" y1="305.8" x2="485.1" y2="304.1" stroke="#222" stroke-width="0.6"/>
<line x1="490.5" y1="305.8" x2="490.5" y2="304.1" stroke="#222" stroke-width="0.6"/>
<line x1="495.1" y1="305.8" x2="495.1" y2="304.1" stroke="#222" stroke-width="0.6"/>
<line x1="499.1" y1="305.8" x2="499.1" y2="304.1" stroke="#222" stroke-width="0.6"/>
<line x1="502.6" y1="305.8" x2="502.6" y2="304.1" stroke="#222" stroke-width="0.6"/>
<line x1="505.7" y1="305.8" x2="505.7" y2="302.8" stroke="#222" stroke-width="0.8"/>
<line x1="526.3" y1="305.8" x2="526.3" y2="304.1" stroke="#222" stroke-width="0.6"/>
<line x1="538.4" y1="305.8" x2="538.4" y2="304.1" stroke="#222" stroke-width="0.6"/>
<line x1="546.9" y1="305.8" x2="546.9" y2="304.1" stroke="#222" stroke-width="0.6"/>
<line x1="553.6" y1="305.8" x2="553.6" y2="304.1" stroke="#222" stroke-width="0.6"/>
<line x1="559" y1="305.8" x2="559" y2="304.1" stroke="#222" stroke-width="0.6"/>
<line x1="563.6" y1="305.8" x2="563.6" y2="304.1" stroke="#222" stroke-width="0.6"/>
<line x1="567.6" y1="305.8" x2="567.6" y2="304.1" stroke="#222" stroke-width="0.6"/>
<line x1="571.1" y1="305.8" x2="571.1" y2="304.1" stroke="#222" stroke-width="0.6"/>
<line x1="574.2" y1="305.8" x2="574.2" y2="302.8" stroke="#222" stroke-width="0.8"/>
<line x1="594.8" y1="305.8" x2="594.8" y2="304.1" stroke="#222" stroke-width="0.6"/>
<line x1="606.9" y1="305.8" x2="606.9" y2="304.1" stroke="#222" stroke-width="0.6"/>
<line x1="615.4" y1="305.8" x2="615.4" y2="304.1" stroke="#222" stroke-width="0.6"/>
<line x1="622.1" y1="305.8" x2="622.1" y2="304.1" stroke="#222" stroke-width="0.6"/>
<line x1="627.5" y1="305.8" x2="627.5" y2="304.1" stroke="#222" stroke-width="0.6"/>
<line x1="632.1" y1="305.8" x2="632.1" y2="304.1" stroke="#222" stroke-width="0.6"/>
<line x1="636.1" y1="305.8" x2="636.1" y2="304.1" stroke="#222" stroke-width="0.6"/>
<line x1="639.6" y1="305.8" x2="639.6" y2="304.1" stroke="#222" stroke-width="0.6"/>
<line x1="642.7" y1="305.8" x2="642.7" y2="302.8" stroke="#222" stroke-width="0.8"/>
<line x1="647.5" y1="299" x2="645.8" y2="299" stroke="#222" stroke-width="0.6"/>
<line x1="647.5" y1="287.4" x2="645.8" y2="287.4" stroke="#222" stroke-width="0.6"/>
<line x1="647.5" y1="278.4" x2="645.8" y2="278.4" stroke="#222" stroke-width="0.6"/>
<line x1="647.5" y1="271" x2="645.8" y2="271" stroke="#222" stroke-width="0.6"/>
<line x1="647.5" y1="264.8" x2="645.8" y2="264.8" stroke="#222" stroke-width="0.6"/>
<line x1="647.5" y1="259.4" x2="645.8" y2="259.4" stroke="#222" stroke-width="0.6"/>
<line x1="647.5" y1="254.7" x2="645.8" y2="254.7" stroke="#222" stroke-width="0.6"/>
<line x1="647.5" y1="250.4" x2="644.5" y2="250.4" stroke="#222" stroke-width="0.8"/>
<line x1="647.5" y1="222.4" x2="645.8" y2="222.4" stroke="#222" stroke-width="0.6"/>
<line x1="647.5" y1="206.1" x2="645.8" y2="206.1" stroke="#222" stroke-width="0.6"/>
<line x1="647.5" y1="194.5" x2="645.8" y2="194.5" stroke="#222" stroke-width="0.6"/>
<line x1="647.5" y1="185.5" x2="645.8" y2="185.5" stroke="#222" stroke-width="0.6"/>
<line x1="647.5" y1="178.1" x2="645.8" y2="178.1" stroke="#222" stroke-width="0.6"/>
<line x1="647.5" y1="171.9" x2="645.8" y2="171.9" stroke="#222" stroke-width="0.6"/>
<line x1="647.5" y1="166.5" x2="645.8" y2="166.5" stroke="#222" stroke-width="0.6"/>
<line x1="647.5" y1="161.8" x2="645.8" y2="161.8" stroke="#222" stroke-width="0.6"/>
<line x1="647.5" y1="157.5" x2="644.5" y2="157.5" stroke="#222" stroke-width="0.8"/>
<line x1="647.5" y1="129.5" x2="645.8" y2="129.5" stroke="#222" stroke-width="0.6"/>
<line x1="647.5" y1="113.2" x2="645.8" y2="113.2" stroke="#222" stroke-width="0.6"/>
<text x="505.7" y="317.2" font-size="9.2" text-anchor="middle" fill="#000">10<tspan font-size="6.5" dy="-3.6">1</tspan></text>
<text x="574.2" y="317.2" font-size="9.2" text-anchor="middle" fill="#000">10<tspan font-size="6.5" dy="-3.6">2</tspan></text>
<text x="642.7" y="317.2" font-size="9.2" text-anchor="middle" fill="#000">10<tspan font-size="6.5" dy="-3.6">3</tspan></text>
<text x="650.6" y="160.6" font-size="9.2" text-anchor="start" fill="#000">10<tspan font-size="6.5" dy="-3.6">0</tspan></text>
<text x="650.6" y="253.5" font-size="9.2" text-anchor="start" fill="#000">10<tspan font-size="7.0" dy="-3.7">−1</tspan></text>
<text x="555.3" y="332.3" font-size="12.4" text-anchor="middle" fill="#000">Ex.Dens. (Wcm<tspan font-size="9" dy="-4.6">−2</tspan><tspan dy="4.6">)</tspan></text>
<text x="681" y="207.7" font-size="12.6" text-anchor="middle" fill="#000" transform="rotate(-90 681 207.7)">Norm. Int. Intensity (arb.u.)</text>
<path d="M469.1 279.6 L639 118.5" fill="none" stroke="#ff0000" stroke-width="1.5" stroke-linejoin="round"/>
<path d="M490.2 289.1 L639 156.4" fill="none" stroke="#2ed3d6" stroke-width="1.5" stroke-linejoin="round"/>
<path d="M579.7 237.9 L638.8 188.8" fill="none" stroke="#777777" stroke-width="1.5" stroke-linejoin="round"/>
<rect x="467.1" y="281.1" width="5.6" height="5.6" fill="#ff0000"/>
<rect x="487.5" y="257.3" width="5.6" height="5.6" fill="#ff0000"/>
<rect x="510.6" y="236.1" width="5.6" height="5.6" fill="#ff0000"/>
<rect x="522.1" y="224.3" width="5.6" height="5.6" fill="#ff0000"/>
<rect x="530.3" y="215.5" width="5.6" height="5.6" fill="#ff0000"/>
<rect x="542.5" y="201.6" width="5.6" height="5.6" fill="#ff0000"/>
<rect x="551.3" y="194" width="5.6" height="5.6" fill="#ff0000"/>
<rect x="558.3" y="186.1" width="5.6" height="5.6" fill="#ff0000"/>
<rect x="568.5" y="176.9" width="5.6" height="5.6" fill="#ff0000"/>
<rect x="578.5" y="167.8" width="5.6" height="5.6" fill="#ff0000"/>
<rect x="590.9" y="158" width="5.6" height="5.6" fill="#ff0000"/>
<rect x="599.3" y="150.4" width="5.6" height="5.6" fill="#ff0000"/>
<rect x="611.1" y="140.2" width="5.6" height="5.6" fill="#ff0000"/>
<rect x="619.9" y="133.8" width="5.6" height="5.6" fill="#ff0000"/>
<rect x="636.5" y="121.3" width="5.6" height="5.6" fill="#ff0000"/>
<circle cx="490.3" cy="296.6" r="2.9" fill="#2ed3d6"/>
<circle cx="513.4" cy="266.6" r="2.9" fill="#2ed3d6"/>
<circle cx="533" cy="247.6" r="2.9" fill="#2ed3d6"/>
<circle cx="545.2" cy="236.1" r="2.9" fill="#2ed3d6"/>
<circle cx="554" cy="229" r="2.9" fill="#2ed3d6"/>
<circle cx="561.1" cy="222.6" r="2.9" fill="#2ed3d6"/>
<circle cx="571.8" cy="213.5" r="2.9" fill="#2ed3d6"/>
<circle cx="581.3" cy="206.2" r="2.9" fill="#2ed3d6"/>
<circle cx="593.4" cy="196.7" r="2.9" fill="#2ed3d6"/>
<circle cx="602.2" cy="188.6" r="2.9" fill="#2ed3d6"/>
<circle cx="608.4" cy="183.7" r="2.9" fill="#2ed3d6"/>
<circle cx="613.9" cy="178.3" r="2.9" fill="#2ed3d6"/>
<circle cx="629.1" cy="165" r="2.9" fill="#2ed3d6"/>
<circle cx="638.9" cy="156.7" r="2.9" fill="#2ed3d6"/>
<path d="M578.8 232.7 L584.2 238.1 M578.8 238.1 L584.2 232.7" stroke="#777" stroke-width="1.0" fill="none"/>
<path d="M591.3 223.4 L596.7 228.8 M591.3 228.8 L596.7 223.4" stroke="#777" stroke-width="1.0" fill="none"/>
<path d="M600.3 214.4 L605.7 219.8 M600.3 219.8 L605.7 214.4" stroke="#777" stroke-width="1.0" fill="none"/>
<path d="M611.7 205.5 L617.1 210.9 M611.7 210.9 L617.1 205.5" stroke="#777" stroke-width="1.0" fill="none"/>
<path d="M627.1 193.3 L632.5 198.7 M627.1 198.7 L632.5 193.3" stroke="#777" stroke-width="1.0" fill="none"/>
<path d="M636.1 186.8 L641.5 192.2 M636.1 192.2 L641.5 186.8" stroke="#777" stroke-width="1.0" fill="none"/>
<rect x="553.5" y="254.6" width="88.7" height="46" rx="2" fill="#fff" fill-opacity="0.85" stroke="#d8d8d8" stroke-width="0.8"/>
<circle cx="566.7" cy="263.3" r="2.9" fill="#2ed3d6"/>
<rect x="563.9" y="275.1" width="5.6" height="5.6" fill="#ff0000"/>
<path d="M564 289.4 L569.4 294.8 M564 294.8 L569.4 289.4" stroke="#777" stroke-width="1.0" fill="none"/>
<text x="584.5" y="266.6" font-size="9.7" text-anchor="start" fill="#000">(10 ± 3)nm</text>
<text x="584.5" y="281.1" font-size="9.7" text-anchor="start" fill="#000">(24 ± 7)nm</text>
<text x="584.5" y="295.3" font-size="9.7" text-anchor="start" fill="#000">SiGe Barrier</text>
<text x="466.2" y="140.3" font-size="35" text-anchor="start" fill="#000">g</text>
<rect x="461.5" y="373.2" width="186" height="280.3" fill="none" stroke="#222" stroke-width="0.9"/>
<line x1="467.1" y1="653.5" x2="467.1" y2="651.8" stroke="#222" stroke-width="0.6"/>
<line x1="477" y1="653.5" x2="477" y2="651.8" stroke="#222" stroke-width="0.6"/>
<line x1="484.7" y1="653.5" x2="484.7" y2="651.8" stroke="#222" stroke-width="0.6"/>
<line x1="491" y1="653.5" x2="491" y2="651.8" stroke="#222" stroke-width="0.6"/>
<line x1="496.2" y1="653.5" x2="496.2" y2="651.8" stroke="#222" stroke-width="0.6"/>
<line x1="500.8" y1="653.5" x2="500.8" y2="651.8" stroke="#222" stroke-width="0.6"/>
<line x1="504.9" y1="653.5" x2="504.9" y2="651.8" stroke="#222" stroke-width="0.6"/>
<line x1="508.5" y1="653.5" x2="508.5" y2="650.5" stroke="#222" stroke-width="0.8"/>
<line x1="532.3" y1="653.5" x2="532.3" y2="651.8" stroke="#222" stroke-width="0.6"/>
<line x1="546.2" y1="653.5" x2="546.2" y2="651.8" stroke="#222" stroke-width="0.6"/>
<line x1="556.1" y1="653.5" x2="556.1" y2="651.8" stroke="#222" stroke-width="0.6"/>
<line x1="563.8" y1="653.5" x2="563.8" y2="651.8" stroke="#222" stroke-width="0.6"/>
<line x1="570.1" y1="653.5" x2="570.1" y2="651.8" stroke="#222" stroke-width="0.6"/>
<line x1="575.3" y1="653.5" x2="575.3" y2="651.8" stroke="#222" stroke-width="0.6"/>
<line x1="579.9" y1="653.5" x2="579.9" y2="651.8" stroke="#222" stroke-width="0.6"/>
<line x1="584" y1="653.5" x2="584" y2="651.8" stroke="#222" stroke-width="0.6"/>
<line x1="587.6" y1="653.5" x2="587.6" y2="650.5" stroke="#222" stroke-width="0.8"/>
<line x1="611.4" y1="653.5" x2="611.4" y2="651.8" stroke="#222" stroke-width="0.6"/>
<line x1="625.3" y1="653.5" x2="625.3" y2="651.8" stroke="#222" stroke-width="0.6"/>
<line x1="635.2" y1="653.5" x2="635.2" y2="651.8" stroke="#222" stroke-width="0.6"/>
<line x1="642.9" y1="653.5" x2="642.9" y2="651.8" stroke="#222" stroke-width="0.6"/>
<line x1="647.5" y1="635.5" x2="645.8" y2="635.5" stroke="#222" stroke-width="0.6"/>
<line x1="647.5" y1="620.4" x2="645.8" y2="620.4" stroke="#222" stroke-width="0.6"/>
<line x1="647.5" y1="607.7" x2="645.8" y2="607.7" stroke="#222" stroke-width="0.6"/>
<line x1="647.5" y1="596.6" x2="645.8" y2="596.6" stroke="#222" stroke-width="0.6"/>
<line x1="647.5" y1="586.9" x2="645.8" y2="586.9" stroke="#222" stroke-width="0.6"/>
<line x1="647.5" y1="578.2" x2="644.5" y2="578.2" stroke="#222" stroke-width="0.8"/>
<line x1="647.5" y1="520.9" x2="645.8" y2="520.9" stroke="#222" stroke-width="0.6"/>
<line x1="647.5" y1="487.5" x2="645.8" y2="487.5" stroke="#222" stroke-width="0.6"/>
<line x1="647.5" y1="463.7" x2="645.8" y2="463.7" stroke="#222" stroke-width="0.6"/>
<line x1="647.5" y1="445.3" x2="645.8" y2="445.3" stroke="#222" stroke-width="0.6"/>
<line x1="647.5" y1="430.2" x2="645.8" y2="430.2" stroke="#222" stroke-width="0.6"/>
<line x1="647.5" y1="417.5" x2="645.8" y2="417.5" stroke="#222" stroke-width="0.6"/>
<line x1="647.5" y1="406.4" x2="645.8" y2="406.4" stroke="#222" stroke-width="0.6"/>
<line x1="647.5" y1="396.7" x2="645.8" y2="396.7" stroke="#222" stroke-width="0.6"/>
<line x1="647.5" y1="388" x2="644.5" y2="388" stroke="#222" stroke-width="0.8"/>
<line x1="470.3" y1="373.2" x2="470.3" y2="374.9" stroke="#222" stroke-width="0.6"/>
<line x1="508.5" y1="373.2" x2="508.5" y2="376.2" stroke="#222" stroke-width="0.8"/>
<line x1="532.7" y1="373.2" x2="532.7" y2="374.9" stroke="#222" stroke-width="0.6"/>
<line x1="564" y1="373.2" x2="564" y2="374.9" stroke="#222" stroke-width="0.6"/>
<line x1="587.6" y1="373.2" x2="587.6" y2="376.2" stroke="#222" stroke-width="0.8"/>
<line x1="612" y1="373.2" x2="612" y2="374.9" stroke="#222" stroke-width="0.6"/>
<text x="508.5" y="368.4" font-size="9.2" text-anchor="middle" fill="#000">10<tspan font-size="6.5" dy="-3.6">2</tspan></text>
<text x="587.6" y="368.4" font-size="9.2" text-anchor="middle" fill="#000">10<tspan font-size="6.5" dy="-3.6">1</tspan></text>
<text x="554.6" y="358.8" font-size="12.4" text-anchor="middle" fill="#000">T (K)</text>
<text x="508.5" y="664.5" font-size="9.2" text-anchor="middle" fill="#000">10<tspan font-size="7.0" dy="-3.7">−2</tspan></text>
<text x="587.6" y="664.5" font-size="9.2" text-anchor="middle" fill="#000">10<tspan font-size="7.0" dy="-3.7">−1</tspan></text>
<text x="650.6" y="391.1" font-size="9.2" text-anchor="start" fill="#000">10<tspan font-size="6.5" dy="-3.6">0</tspan></text>
<text x="650.6" y="581.3" font-size="9.2" text-anchor="start" fill="#000">10<tspan font-size="7.0" dy="-3.7">−1</tspan></text>
<text x="554.6" y="679.8" font-size="12.4" text-anchor="middle" fill="#000">T<tspan font-size="9.2" dy="-4.6">−1</tspan><tspan dy="4.6">&#160;(K</tspan><tspan font-size="9.2" dy="-4.6">−1</tspan><tspan dy="4.6">)</tspan></text>
<text x="681" y="512.5" font-size="12.6" text-anchor="middle" fill="#000" transform="rotate(-90 681 512.5)">Norm. Int. Intensity (arb.u.)</text>
<rect x="466.8" y="598.2" width="5.6" height="5.6" fill="#ff0000"/>
<rect x="473.2" y="559.9" width="5.6" height="5.6" fill="#ff0000"/>
<rect x="481.1" y="504.4" width="5.6" height="5.6" fill="#ff0000"/>
<rect x="484.7" y="482.8" width="5.6" height="5.6" fill="#ff0000"/>
<rect x="491" y="458.4" width="5.6" height="5.6" fill="#ff0000"/>
<rect x="505.2" y="430.1" width="5.6" height="5.6" fill="#ff0000"/>
<rect x="517.8" y="414.7" width="5.6" height="5.6" fill="#ff0000"/>
<rect x="529.3" y="404.7" width="5.6" height="5.6" fill="#ff0000"/>
<rect x="537.2" y="400.3" width="5.6" height="5.6" fill="#ff0000"/>
<rect x="546.8" y="394.4" width="5.6" height="5.6" fill="#ff0000"/>
<rect x="560.9" y="391.9" width="5.6" height="5.6" fill="#ff0000"/>
<rect x="571.1" y="389.1" width="5.6" height="5.6" fill="#ff0000"/>
<rect x="578.5" y="387.4" width="5.6" height="5.6" fill="#ff0000"/>
<rect x="585.5" y="387" width="5.6" height="5.6" fill="#ff0000"/>
<rect x="593" y="386.6" width="5.6" height="5.6" fill="#ff0000"/>
<rect x="602.9" y="387.4" width="5.6" height="5.6" fill="#ff0000"/>
<rect x="616.9" y="383" width="5.6" height="5.6" fill="#ff0000"/>
<rect x="635.1" y="385.1" width="5.6" height="5.6" fill="#ff0000"/>
<circle cx="489.5" cy="585.9" r="2.9" fill="#2ed3d6"/>
<circle cx="494" cy="581.8" r="2.9" fill="#2ed3d6"/>
<circle cx="501.6" cy="551.9" r="2.9" fill="#2ed3d6"/>
<circle cx="508" cy="518" r="2.9" fill="#2ed3d6"/>
<circle cx="515.6" cy="481.1" r="2.9" fill="#2ed3d6"/>
<circle cx="525.6" cy="450.7" r="2.9" fill="#2ed3d6"/>
<circle cx="532.1" cy="437.9" r="2.9" fill="#2ed3d6"/>
<circle cx="539.9" cy="427.8" r="2.9" fill="#2ed3d6"/>
<circle cx="549.8" cy="418.2" r="2.9" fill="#2ed3d6"/>
<circle cx="556" cy="413.4" r="2.9" fill="#2ed3d6"/>
<circle cx="564" cy="407.8" r="2.9" fill="#2ed3d6"/>
<circle cx="573.9" cy="390.9" r="2.9" fill="#2ed3d6"/>
<circle cx="588.3" cy="387.1" r="2.9" fill="#2ed3d6"/>
<circle cx="605.7" cy="386.6" r="2.9" fill="#2ed3d6"/>
<circle cx="619.7" cy="385.6" r="2.9" fill="#2ed3d6"/>
<circle cx="630.1" cy="385.8" r="2.9" fill="#2ed3d6"/>
<circle cx="638.6" cy="386.6" r="2.9" fill="#2ed3d6"/>
<path d="M505.3 551.6 L510.7 557 M505.3 557 L510.7 551.6" stroke="#777" stroke-width="1.0" fill="none"/>
<path d="M517.5 503.8 L522.9 509.2 M517.5 509.2 L522.9 503.8" stroke="#777" stroke-width="1.0" fill="none"/>
<path d="M529.4 475.7 L534.8 481.1 M529.4 481.1 L534.8 475.7" stroke="#777" stroke-width="1.0" fill="none"/>
<path d="M537.7 460.5 L543.1 465.9 M537.7 465.9 L543.1 460.5" stroke="#777" stroke-width="1.0" fill="none"/>
<path d="M547 446.5 L552.4 451.9 M547 451.9 L552.4 446.5" stroke="#777" stroke-width="1.0" fill="none"/>
<path d="M561.3 427 L566.7 432.4 M561.3 432.4 L566.7 427" stroke="#777" stroke-width="1.0" fill="none"/>
<path d="M571.2 413 L576.6 418.4 M571.2 418.4 L576.6 413" stroke="#777" stroke-width="1.0" fill="none"/>
<path d="M585.6 399.8 L591 405.2 M585.6 405.2 L591 399.8" stroke="#777" stroke-width="1.0" fill="none"/>
<path d="M593.1 395 L598.5 400.4 M593.1 400.4 L598.5 395" stroke="#777" stroke-width="1.0" fill="none"/>
<path d="M603 392.8 L608.4 398.2 M603 398.2 L608.4 392.8" stroke="#777" stroke-width="1.0" fill="none"/>
<path d="M617 390.3 L622.4 395.7 M617 395.7 L622.4 390.3" stroke="#777" stroke-width="1.0" fill="none"/>
<path d="M627.4 387.8 L632.8 393.2 M627.4 393.2 L632.8 387.8" stroke="#777" stroke-width="1.0" fill="none"/>
<path d="M635.2 385.2 L640.6 390.6 M635.2 390.6 L640.6 385.2" stroke="#777" stroke-width="1.0" fill="none"/>
<rect x="553.5" y="602" width="89" height="46.4" rx="2" fill="#fff" fill-opacity="0.85" stroke="#d8d8d8" stroke-width="0.8"/>
<rect x="564" y="607.8" width="5.6" height="5.6" fill="#ff0000"/>
<circle cx="566.8" cy="625.2" r="2.9" fill="#2ed3d6"/>
<path d="M564.1 636.8 L569.5 642.2 M564.1 642.2 L569.5 636.8" stroke="#777" stroke-width="1.0" fill="none"/>
<text x="584.7" y="613.8" font-size="9.7" text-anchor="start" fill="#000">(24 ± 7)nm</text>
<text x="584.7" y="628.2" font-size="9.7" text-anchor="start" fill="#000">(10 ± 4)nm</text>
<text x="584.7" y="642.5" font-size="9.7" text-anchor="start" fill="#000">SiGe Barrier</text>
<text x="0" y="0" font-size="35" transform="translate(467.0 406.2) scale(1.3 1)">f</text>
<text x="647.6" y="117.6" font-size="5.2" text-anchor="start" fill="#999">3</text>
</svg></body></html>
